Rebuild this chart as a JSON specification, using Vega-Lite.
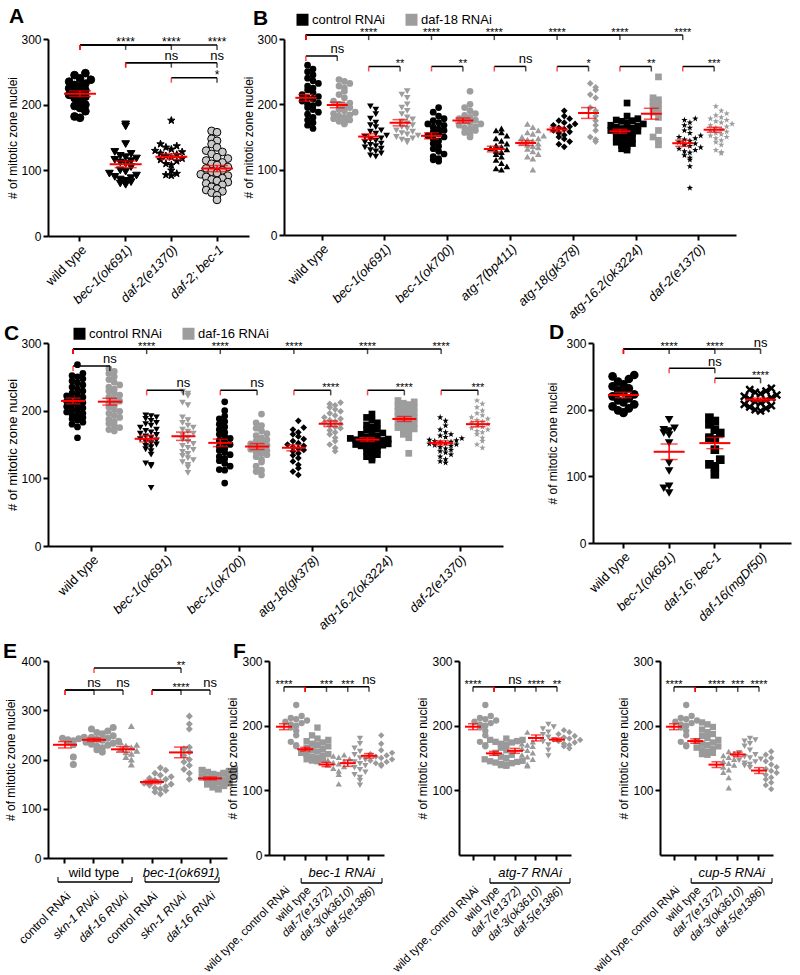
{
"$schema": "https://vega.github.io/schema/vega-lite/v6.json",
"background": "white",
"padding": {"left": 3, "top": 6, "right": 2, "bottom": 2},
"config": {
  "font": "Liberation Sans",
  "view": {"stroke": null},
  "axis": {"domainColor": "black", "domainWidth": 2, "tickColor": "black", "tickWidth": 2, "tickSize": 5, "labelColor": "black", "labelFontSize": 12, "titleFontSize": 12, "titleFontWeight": "normal", "titleColor": "black", "grid": false, "labelPadding": 2},
  "axisY": {"titlePadding": 1},
  "axisX": {"labelAngle": -45, "labelFontSize": 13},
  "title": {"fontSize": 21, "fontWeight": "bold", "anchor": "start", "color": "black", "frame": "group"},
  "legend": {"labelFontSize": 13, "labelColor": "black"}
},
"datasets": {
"A": [
{"g":"wild type","v":248},{"g":"wild type","v":245},{"g":"wild type","v":240},{"g":"wild type","v":238},{"g":"wild type","v":235},{"g":"wild type","v":232},{"g":"wild type","v":230},{"g":"wild type","v":228},{"g":"wild type","v":225},{"g":"wild type","v":222},{"g":"wild type","v":220},{"g":"wild type","v":218},{"g":"wild type","v":215},{"g":"wild type","v":212},{"g":"wild type","v":210},{"g":"wild type","v":205},{"g":"wild type","v":200},{"g":"wild type","v":198},{"g":"wild type","v":195},{"g":"wild type","v":190},{"g":"wild type","v":182},{"g":"wild type","v":180},
{"g":"bec-1(ok691)","v":170},{"g":"bec-1(ok691)","v":167},{"g":"bec-1(ok691)","v":140},{"g":"bec-1(ok691)","v":128},{"g":"bec-1(ok691)","v":125},{"g":"bec-1(ok691)","v":122},{"g":"bec-1(ok691)","v":120},{"g":"bec-1(ok691)","v":118},{"g":"bec-1(ok691)","v":116},{"g":"bec-1(ok691)","v":114},{"g":"bec-1(ok691)","v":112},{"g":"bec-1(ok691)","v":110},{"g":"bec-1(ok691)","v":105},{"g":"bec-1(ok691)","v":100},{"g":"bec-1(ok691)","v":98},{"g":"bec-1(ok691)","v":95},{"g":"bec-1(ok691)","v":92},{"g":"bec-1(ok691)","v":90},{"g":"bec-1(ok691)","v":88},{"g":"bec-1(ok691)","v":86},{"g":"bec-1(ok691)","v":84},{"g":"bec-1(ok691)","v":82},{"g":"bec-1(ok691)","v":80},{"g":"bec-1(ok691)","v":78},
{"g":"daf-2(e1370)","v":176},{"g":"daf-2(e1370)","v":140},{"g":"daf-2(e1370)","v":137},{"g":"daf-2(e1370)","v":135},{"g":"daf-2(e1370)","v":132},{"g":"daf-2(e1370)","v":130},{"g":"daf-2(e1370)","v":128},{"g":"daf-2(e1370)","v":126},{"g":"daf-2(e1370)","v":124},{"g":"daf-2(e1370)","v":122},{"g":"daf-2(e1370)","v":120},{"g":"daf-2(e1370)","v":118},{"g":"daf-2(e1370)","v":116},{"g":"daf-2(e1370)","v":114},{"g":"daf-2(e1370)","v":110},{"g":"daf-2(e1370)","v":108},{"g":"daf-2(e1370)","v":100},{"g":"daf-2(e1370)","v":95},{"g":"daf-2(e1370)","v":93},{"g":"daf-2(e1370)","v":92},
{"g":"daf-2; bec-1","v":160},{"g":"daf-2; bec-1","v":158},{"g":"daf-2; bec-1","v":148},{"g":"daf-2; bec-1","v":145},{"g":"daf-2; bec-1","v":140},{"g":"daf-2; bec-1","v":135},{"g":"daf-2; bec-1","v":130},{"g":"daf-2; bec-1","v":128},{"g":"daf-2; bec-1","v":125},{"g":"daf-2; bec-1","v":120},{"g":"daf-2; bec-1","v":118},{"g":"daf-2; bec-1","v":115},{"g":"daf-2; bec-1","v":112},{"g":"daf-2; bec-1","v":110},{"g":"daf-2; bec-1","v":108},{"g":"daf-2; bec-1","v":105},{"g":"daf-2; bec-1","v":103},{"g":"daf-2; bec-1","v":100},{"g":"daf-2; bec-1","v":98},{"g":"daf-2; bec-1","v":96},{"g":"daf-2; bec-1","v":94},{"g":"daf-2; bec-1","v":92},{"g":"daf-2; bec-1","v":90},{"g":"daf-2; bec-1","v":88},{"g":"daf-2; bec-1","v":86},{"g":"daf-2; bec-1","v":84},{"g":"daf-2; bec-1","v":82},{"g":"daf-2; bec-1","v":80},{"g":"daf-2; bec-1","v":78},{"g":"daf-2; bec-1","v":75},{"g":"daf-2; bec-1","v":72},{"g":"daf-2; bec-1","v":70},{"g":"daf-2; bec-1","v":68},{"g":"daf-2; bec-1","v":66},{"g":"daf-2; bec-1","v":62},{"g":"daf-2; bec-1","v":55}
],
"Abr": [
{"a":"wild type","b":"bec-1(ok691)","l":291,"t":"****"},{"a":"wild type","b":"daf-2(e1370)","l":291,"t":"****"},{"a":"wild type","b":"daf-2; bec-1","l":291,"t":"****"},
{"a":"bec-1(ok691)","b":"daf-2(e1370)","l":264,"t":"ns"},{"a":"bec-1(ok691)","b":"daf-2; bec-1","l":264,"t":"ns"},
{"a":"daf-2(e1370)","b":"daf-2; bec-1","l":241,"t":"*"}
],
"B": [
{"s":"wild type|c","r":"control RNAi","v":260},{"s":"wild type|c","r":"control RNAi","v":254},{"s":"wild type|c","r":"control RNAi","v":250},{"s":"wild type|c","r":"control RNAi","v":245},{"s":"wild type|c","r":"control RNAi","v":240},{"s":"wild type|c","r":"control RNAi","v":236},{"s":"wild type|c","r":"control RNAi","v":232},{"s":"wild type|c","r":"control RNAi","v":228},{"s":"wild type|c","r":"control RNAi","v":225},{"s":"wild type|c","r":"control RNAi","v":222},{"s":"wild type|c","r":"control RNAi","v":218},{"s":"wild type|c","r":"control RNAi","v":215},{"s":"wild type|c","r":"control RNAi","v":212},{"s":"wild type|c","r":"control RNAi","v":210},{"s":"wild type|c","r":"control RNAi","v":208},{"s":"wild type|c","r":"control RNAi","v":205},{"s":"wild type|c","r":"control RNAi","v":202},{"s":"wild type|c","r":"control RNAi","v":200},{"s":"wild type|c","r":"control RNAi","v":198},{"s":"wild type|c","r":"control RNAi","v":195},{"s":"wild type|c","r":"control RNAi","v":192},{"s":"wild type|c","r":"control RNAi","v":188},{"s":"wild type|c","r":"control RNAi","v":185},{"s":"wild type|c","r":"control RNAi","v":180},{"s":"wild type|c","r":"control RNAi","v":176},{"s":"wild type|c","r":"control RNAi","v":172},{"s":"wild type|c","r":"control RNAi","v":168},{"s":"wild type|c","r":"control RNAi","v":163},
{"s":"wild type|d","r":"daf-18 RNAi","v":238},{"s":"wild type|d","r":"daf-18 RNAi","v":235},{"s":"wild type|d","r":"daf-18 RNAi","v":232},{"s":"wild type|d","r":"daf-18 RNAi","v":228},{"s":"wild type|d","r":"daf-18 RNAi","v":225},{"s":"wild type|d","r":"daf-18 RNAi","v":220},{"s":"wild type|d","r":"daf-18 RNAi","v":215},{"s":"wild type|d","r":"daf-18 RNAi","v":210},{"s":"wild type|d","r":"daf-18 RNAi","v":205},{"s":"wild type|d","r":"daf-18 RNAi","v":202},{"s":"wild type|d","r":"daf-18 RNAi","v":200},{"s":"wild type|d","r":"daf-18 RNAi","v":198},{"s":"wild type|d","r":"daf-18 RNAi","v":195},{"s":"wild type|d","r":"daf-18 RNAi","v":192},{"s":"wild type|d","r":"daf-18 RNAi","v":190},{"s":"wild type|d","r":"daf-18 RNAi","v":188},{"s":"wild type|d","r":"daf-18 RNAi","v":186},{"s":"wild type|d","r":"daf-18 RNAi","v":184},{"s":"wild type|d","r":"daf-18 RNAi","v":182},{"s":"wild type|d","r":"daf-18 RNAi","v":180},{"s":"wild type|d","r":"daf-18 RNAi","v":178},{"s":"wild type|d","r":"daf-18 RNAi","v":176},{"s":"wild type|d","r":"daf-18 RNAi","v":174},{"s":"wild type|d","r":"daf-18 RNAi","v":172},{"s":"wild type|d","r":"daf-18 RNAi","v":170},
{"s":"bec-1(ok691)|c","r":"control RNAi","v":197},{"s":"bec-1(ok691)|c","r":"control RNAi","v":192},{"s":"bec-1(ok691)|c","r":"control RNAi","v":185},{"s":"bec-1(ok691)|c","r":"control RNAi","v":178},{"s":"bec-1(ok691)|c","r":"control RNAi","v":172},{"s":"bec-1(ok691)|c","r":"control RNAi","v":168},{"s":"bec-1(ok691)|c","r":"control RNAi","v":165},{"s":"bec-1(ok691)|c","r":"control RNAi","v":160},{"s":"bec-1(ok691)|c","r":"control RNAi","v":158},{"s":"bec-1(ok691)|c","r":"control RNAi","v":155},{"s":"bec-1(ok691)|c","r":"control RNAi","v":152},{"s":"bec-1(ok691)|c","r":"control RNAi","v":150},{"s":"bec-1(ok691)|c","r":"control RNAi","v":148},{"s":"bec-1(ok691)|c","r":"control RNAi","v":146},{"s":"bec-1(ok691)|c","r":"control RNAi","v":144},{"s":"bec-1(ok691)|c","r":"control RNAi","v":142},{"s":"bec-1(ok691)|c","r":"control RNAi","v":140},{"s":"bec-1(ok691)|c","r":"control RNAi","v":138},{"s":"bec-1(ok691)|c","r":"control RNAi","v":136},{"s":"bec-1(ok691)|c","r":"control RNAi","v":134},{"s":"bec-1(ok691)|c","r":"control RNAi","v":132},{"s":"bec-1(ok691)|c","r":"control RNAi","v":130},{"s":"bec-1(ok691)|c","r":"control RNAi","v":128},{"s":"bec-1(ok691)|c","r":"control RNAi","v":125},{"s":"bec-1(ok691)|c","r":"control RNAi","v":122},{"s":"bec-1(ok691)|c","r":"control RNAi","v":120},
{"s":"bec-1(ok691)|d","r":"daf-18 RNAi","v":220},{"s":"bec-1(ok691)|d","r":"daf-18 RNAi","v":215},{"s":"bec-1(ok691)|d","r":"daf-18 RNAi","v":210},{"s":"bec-1(ok691)|d","r":"daf-18 RNAi","v":200},{"s":"bec-1(ok691)|d","r":"daf-18 RNAi","v":195},{"s":"bec-1(ok691)|d","r":"daf-18 RNAi","v":190},{"s":"bec-1(ok691)|d","r":"daf-18 RNAi","v":185},{"s":"bec-1(ok691)|d","r":"daf-18 RNAi","v":180},{"s":"bec-1(ok691)|d","r":"daf-18 RNAi","v":177},{"s":"bec-1(ok691)|d","r":"daf-18 RNAi","v":174},{"s":"bec-1(ok691)|d","r":"daf-18 RNAi","v":171},{"s":"bec-1(ok691)|d","r":"daf-18 RNAi","v":168},{"s":"bec-1(ok691)|d","r":"daf-18 RNAi","v":165},{"s":"bec-1(ok691)|d","r":"daf-18 RNAi","v":163},{"s":"bec-1(ok691)|d","r":"daf-18 RNAi","v":160},{"s":"bec-1(ok691)|d","r":"daf-18 RNAi","v":158},{"s":"bec-1(ok691)|d","r":"daf-18 RNAi","v":156},{"s":"bec-1(ok691)|d","r":"daf-18 RNAi","v":154},{"s":"bec-1(ok691)|d","r":"daf-18 RNAi","v":152},{"s":"bec-1(ok691)|d","r":"daf-18 RNAi","v":150},{"s":"bec-1(ok691)|d","r":"daf-18 RNAi","v":148},{"s":"bec-1(ok691)|d","r":"daf-18 RNAi","v":146},{"s":"bec-1(ok691)|d","r":"daf-18 RNAi","v":144},{"s":"bec-1(ok691)|d","r":"daf-18 RNAi","v":142},
{"s":"bec-1(ok700)|c","r":"control RNAi","v":195},{"s":"bec-1(ok700)|c","r":"control RNAi","v":188},{"s":"bec-1(ok700)|c","r":"control RNAi","v":182},{"s":"bec-1(ok700)|c","r":"control RNAi","v":178},{"s":"bec-1(ok700)|c","r":"control RNAi","v":175},{"s":"bec-1(ok700)|c","r":"control RNAi","v":172},{"s":"bec-1(ok700)|c","r":"control RNAi","v":170},{"s":"bec-1(ok700)|c","r":"control RNAi","v":168},{"s":"bec-1(ok700)|c","r":"control RNAi","v":165},{"s":"bec-1(ok700)|c","r":"control RNAi","v":162},{"s":"bec-1(ok700)|c","r":"control RNAi","v":160},{"s":"bec-1(ok700)|c","r":"control RNAi","v":158},{"s":"bec-1(ok700)|c","r":"control RNAi","v":155},{"s":"bec-1(ok700)|c","r":"control RNAi","v":152},{"s":"bec-1(ok700)|c","r":"control RNAi","v":150},{"s":"bec-1(ok700)|c","r":"control RNAi","v":147},{"s":"bec-1(ok700)|c","r":"control RNAi","v":144},{"s":"bec-1(ok700)|c","r":"control RNAi","v":140},{"s":"bec-1(ok700)|c","r":"control RNAi","v":136},{"s":"bec-1(ok700)|c","r":"control RNAi","v":132},{"s":"bec-1(ok700)|c","r":"control RNAi","v":128},{"s":"bec-1(ok700)|c","r":"control RNAi","v":124},{"s":"bec-1(ok700)|c","r":"control RNAi","v":120},{"s":"bec-1(ok700)|c","r":"control RNAi","v":117},{"s":"bec-1(ok700)|c","r":"control RNAi","v":115},{"s":"bec-1(ok700)|c","r":"control RNAi","v":113},
{"s":"bec-1(ok700)|d","r":"daf-18 RNAi","v":220},{"s":"bec-1(ok700)|d","r":"daf-18 RNAi","v":200},{"s":"bec-1(ok700)|d","r":"daf-18 RNAi","v":195},{"s":"bec-1(ok700)|d","r":"daf-18 RNAi","v":190},{"s":"bec-1(ok700)|d","r":"daf-18 RNAi","v":186},{"s":"bec-1(ok700)|d","r":"daf-18 RNAi","v":183},{"s":"bec-1(ok700)|d","r":"daf-18 RNAi","v":180},{"s":"bec-1(ok700)|d","r":"daf-18 RNAi","v":178},{"s":"bec-1(ok700)|d","r":"daf-18 RNAi","v":176},{"s":"bec-1(ok700)|d","r":"daf-18 RNAi","v":174},{"s":"bec-1(ok700)|d","r":"daf-18 RNAi","v":172},{"s":"bec-1(ok700)|d","r":"daf-18 RNAi","v":170},{"s":"bec-1(ok700)|d","r":"daf-18 RNAi","v":168},{"s":"bec-1(ok700)|d","r":"daf-18 RNAi","v":166},{"s":"bec-1(ok700)|d","r":"daf-18 RNAi","v":164},{"s":"bec-1(ok700)|d","r":"daf-18 RNAi","v":162},{"s":"bec-1(ok700)|d","r":"daf-18 RNAi","v":160},{"s":"bec-1(ok700)|d","r":"daf-18 RNAi","v":157},{"s":"bec-1(ok700)|d","r":"daf-18 RNAi","v":154},{"s":"bec-1(ok700)|d","r":"daf-18 RNAi","v":150},
{"s":"atg-7(bp411)|c","r":"control RNAi","v":163},{"s":"atg-7(bp411)|c","r":"control RNAi","v":160},{"s":"atg-7(bp411)|c","r":"control RNAi","v":157},{"s":"atg-7(bp411)|c","r":"control RNAi","v":152},{"s":"atg-7(bp411)|c","r":"control RNAi","v":148},{"s":"atg-7(bp411)|c","r":"control RNAi","v":144},{"s":"atg-7(bp411)|c","r":"control RNAi","v":140},{"s":"atg-7(bp411)|c","r":"control RNAi","v":137},{"s":"atg-7(bp411)|c","r":"control RNAi","v":135},{"s":"atg-7(bp411)|c","r":"control RNAi","v":133},{"s":"atg-7(bp411)|c","r":"control RNAi","v":131},{"s":"atg-7(bp411)|c","r":"control RNAi","v":129},{"s":"atg-7(bp411)|c","r":"control RNAi","v":127},{"s":"atg-7(bp411)|c","r":"control RNAi","v":124},{"s":"atg-7(bp411)|c","r":"control RNAi","v":120},{"s":"atg-7(bp411)|c","r":"control RNAi","v":115},{"s":"atg-7(bp411)|c","r":"control RNAi","v":110},{"s":"atg-7(bp411)|c","r":"control RNAi","v":105},{"s":"atg-7(bp411)|c","r":"control RNAi","v":102},{"s":"atg-7(bp411)|c","r":"control RNAi","v":100},
{"s":"atg-7(bp411)|d","r":"daf-18 RNAi","v":170},{"s":"atg-7(bp411)|d","r":"daf-18 RNAi","v":165},{"s":"atg-7(bp411)|d","r":"daf-18 RNAi","v":160},{"s":"atg-7(bp411)|d","r":"daf-18 RNAi","v":157},{"s":"atg-7(bp411)|d","r":"daf-18 RNAi","v":155},{"s":"atg-7(bp411)|d","r":"daf-18 RNAi","v":152},{"s":"atg-7(bp411)|d","r":"daf-18 RNAi","v":150},{"s":"atg-7(bp411)|d","r":"daf-18 RNAi","v":148},{"s":"atg-7(bp411)|d","r":"daf-18 RNAi","v":146},{"s":"atg-7(bp411)|d","r":"daf-18 RNAi","v":144},{"s":"atg-7(bp411)|d","r":"daf-18 RNAi","v":142},{"s":"atg-7(bp411)|d","r":"daf-18 RNAi","v":140},{"s":"atg-7(bp411)|d","r":"daf-18 RNAi","v":138},{"s":"atg-7(bp411)|d","r":"daf-18 RNAi","v":136},{"s":"atg-7(bp411)|d","r":"daf-18 RNAi","v":134},{"s":"atg-7(bp411)|d","r":"daf-18 RNAi","v":132},{"s":"atg-7(bp411)|d","r":"daf-18 RNAi","v":128},{"s":"atg-7(bp411)|d","r":"daf-18 RNAi","v":124},{"s":"atg-7(bp411)|d","r":"daf-18 RNAi","v":120},{"s":"atg-7(bp411)|d","r":"daf-18 RNAi","v":117},{"s":"atg-7(bp411)|d","r":"daf-18 RNAi","v":100},
{"s":"atg-18(gk378)|c","r":"control RNAi","v":190},{"s":"atg-18(gk378)|c","r":"control RNAi","v":182},{"s":"atg-18(gk378)|c","r":"control RNAi","v":178},{"s":"atg-18(gk378)|c","r":"control RNAi","v":175},{"s":"atg-18(gk378)|c","r":"control RNAi","v":172},{"s":"atg-18(gk378)|c","r":"control RNAi","v":170},{"s":"atg-18(gk378)|c","r":"control RNAi","v":168},{"s":"atg-18(gk378)|c","r":"control RNAi","v":166},{"s":"atg-18(gk378)|c","r":"control RNAi","v":164},{"s":"atg-18(gk378)|c","r":"control RNAi","v":162},{"s":"atg-18(gk378)|c","r":"control RNAi","v":160},{"s":"atg-18(gk378)|c","r":"control RNAi","v":158},{"s":"atg-18(gk378)|c","r":"control RNAi","v":156},{"s":"atg-18(gk378)|c","r":"control RNAi","v":153},{"s":"atg-18(gk378)|c","r":"control RNAi","v":150},{"s":"atg-18(gk378)|c","r":"control RNAi","v":147},{"s":"atg-18(gk378)|c","r":"control RNAi","v":143},{"s":"atg-18(gk378)|c","r":"control RNAi","v":139},{"s":"atg-18(gk378)|c","r":"control RNAi","v":135},
{"s":"atg-18(gk378)|d","r":"daf-18 RNAi","v":232},{"s":"atg-18(gk378)|d","r":"daf-18 RNAi","v":226},{"s":"atg-18(gk378)|d","r":"daf-18 RNAi","v":222},{"s":"atg-18(gk378)|d","r":"daf-18 RNAi","v":215},{"s":"atg-18(gk378)|d","r":"daf-18 RNAi","v":210},{"s":"atg-18(gk378)|d","r":"daf-18 RNAi","v":195},{"s":"atg-18(gk378)|d","r":"daf-18 RNAi","v":190},{"s":"atg-18(gk378)|d","r":"daf-18 RNAi","v":182},{"s":"atg-18(gk378)|d","r":"daf-18 RNAi","v":175},{"s":"atg-18(gk378)|d","r":"daf-18 RNAi","v":168},{"s":"atg-18(gk378)|d","r":"daf-18 RNAi","v":160},{"s":"atg-18(gk378)|d","r":"daf-18 RNAi","v":150},{"s":"atg-18(gk378)|d","r":"daf-18 RNAi","v":146},{"s":"atg-18(gk378)|d","r":"daf-18 RNAi","v":143},
{"s":"atg-16.2(ok3224)|c","r":"control RNAi","v":202},{"s":"atg-16.2(ok3224)|c","r":"control RNAi","v":182},{"s":"atg-16.2(ok3224)|c","r":"control RNAi","v":178},{"s":"atg-16.2(ok3224)|c","r":"control RNAi","v":176},{"s":"atg-16.2(ok3224)|c","r":"control RNAi","v":175},{"s":"atg-16.2(ok3224)|c","r":"control RNAi","v":174},{"s":"atg-16.2(ok3224)|c","r":"control RNAi","v":172},{"s":"atg-16.2(ok3224)|c","r":"control RNAi","v":170},{"s":"atg-16.2(ok3224)|c","r":"control RNAi","v":168},{"s":"atg-16.2(ok3224)|c","r":"control RNAi","v":167},{"s":"atg-16.2(ok3224)|c","r":"control RNAi","v":165},{"s":"atg-16.2(ok3224)|c","r":"control RNAi","v":164},{"s":"atg-16.2(ok3224)|c","r":"control RNAi","v":163},{"s":"atg-16.2(ok3224)|c","r":"control RNAi","v":162},{"s":"atg-16.2(ok3224)|c","r":"control RNAi","v":160},{"s":"atg-16.2(ok3224)|c","r":"control RNAi","v":159},{"s":"atg-16.2(ok3224)|c","r":"control RNAi","v":158},{"s":"atg-16.2(ok3224)|c","r":"control RNAi","v":156},{"s":"atg-16.2(ok3224)|c","r":"control RNAi","v":155},{"s":"atg-16.2(ok3224)|c","r":"control RNAi","v":153},{"s":"atg-16.2(ok3224)|c","r":"control RNAi","v":150},{"s":"atg-16.2(ok3224)|c","r":"control RNAi","v":148},{"s":"atg-16.2(ok3224)|c","r":"control RNAi","v":146},{"s":"atg-16.2(ok3224)|c","r":"control RNAi","v":144},{"s":"atg-16.2(ok3224)|c","r":"control RNAi","v":142},{"s":"atg-16.2(ok3224)|c","r":"control RNAi","v":140},{"s":"atg-16.2(ok3224)|c","r":"control RNAi","v":137},{"s":"atg-16.2(ok3224)|c","r":"control RNAi","v":135},{"s":"atg-16.2(ok3224)|c","r":"control RNAi","v":132},{"s":"atg-16.2(ok3224)|c","r":"control RNAi","v":130},
{"s":"atg-16.2(ok3224)|d","r":"daf-18 RNAi","v":242},{"s":"atg-16.2(ok3224)|d","r":"daf-18 RNAi","v":210},{"s":"atg-16.2(ok3224)|d","r":"daf-18 RNAi","v":207},{"s":"atg-16.2(ok3224)|d","r":"daf-18 RNAi","v":204},{"s":"atg-16.2(ok3224)|d","r":"daf-18 RNAi","v":200},{"s":"atg-16.2(ok3224)|d","r":"daf-18 RNAi","v":197},{"s":"atg-16.2(ok3224)|d","r":"daf-18 RNAi","v":192},{"s":"atg-16.2(ok3224)|d","r":"daf-18 RNAi","v":188},{"s":"atg-16.2(ok3224)|d","r":"daf-18 RNAi","v":180},{"s":"atg-16.2(ok3224)|d","r":"daf-18 RNAi","v":160},{"s":"atg-16.2(ok3224)|d","r":"daf-18 RNAi","v":150},{"s":"atg-16.2(ok3224)|d","r":"daf-18 RNAi","v":145},{"s":"atg-16.2(ok3224)|d","r":"daf-18 RNAi","v":138},
{"s":"daf-2(e1370)|c","r":"control RNAi","v":178},{"s":"daf-2(e1370)|c","r":"control RNAi","v":176},{"s":"daf-2(e1370)|c","r":"control RNAi","v":172},{"s":"daf-2(e1370)|c","r":"control RNAi","v":168},{"s":"daf-2(e1370)|c","r":"control RNAi","v":164},{"s":"daf-2(e1370)|c","r":"control RNAi","v":160},{"s":"daf-2(e1370)|c","r":"control RNAi","v":156},{"s":"daf-2(e1370)|c","r":"control RNAi","v":152},{"s":"daf-2(e1370)|c","r":"control RNAi","v":150},{"s":"daf-2(e1370)|c","r":"control RNAi","v":148},{"s":"daf-2(e1370)|c","r":"control RNAi","v":146},{"s":"daf-2(e1370)|c","r":"control RNAi","v":144},{"s":"daf-2(e1370)|c","r":"control RNAi","v":142},{"s":"daf-2(e1370)|c","r":"control RNAi","v":140},{"s":"daf-2(e1370)|c","r":"control RNAi","v":138},{"s":"daf-2(e1370)|c","r":"control RNAi","v":136},{"s":"daf-2(e1370)|c","r":"control RNAi","v":134},{"s":"daf-2(e1370)|c","r":"control RNAi","v":132},{"s":"daf-2(e1370)|c","r":"control RNAi","v":130},{"s":"daf-2(e1370)|c","r":"control RNAi","v":128},{"s":"daf-2(e1370)|c","r":"control RNAi","v":126},{"s":"daf-2(e1370)|c","r":"control RNAi","v":122},{"s":"daf-2(e1370)|c","r":"control RNAi","v":118},{"s":"daf-2(e1370)|c","r":"control RNAi","v":115},{"s":"daf-2(e1370)|c","r":"control RNAi","v":105},{"s":"daf-2(e1370)|c","r":"control RNAi","v":72},
{"s":"daf-2(e1370)|d","r":"daf-18 RNAi","v":197},{"s":"daf-2(e1370)|d","r":"daf-18 RNAi","v":190},{"s":"daf-2(e1370)|d","r":"daf-18 RNAi","v":186},{"s":"daf-2(e1370)|d","r":"daf-18 RNAi","v":183},{"s":"daf-2(e1370)|d","r":"daf-18 RNAi","v":180},{"s":"daf-2(e1370)|d","r":"daf-18 RNAi","v":178},{"s":"daf-2(e1370)|d","r":"daf-18 RNAi","v":176},{"s":"daf-2(e1370)|d","r":"daf-18 RNAi","v":174},{"s":"daf-2(e1370)|d","r":"daf-18 RNAi","v":172},{"s":"daf-2(e1370)|d","r":"daf-18 RNAi","v":170},{"s":"daf-2(e1370)|d","r":"daf-18 RNAi","v":168},{"s":"daf-2(e1370)|d","r":"daf-18 RNAi","v":166},{"s":"daf-2(e1370)|d","r":"daf-18 RNAi","v":164},{"s":"daf-2(e1370)|d","r":"daf-18 RNAi","v":162},{"s":"daf-2(e1370)|d","r":"daf-18 RNAi","v":160},{"s":"daf-2(e1370)|d","r":"daf-18 RNAi","v":158},{"s":"daf-2(e1370)|d","r":"daf-18 RNAi","v":156},{"s":"daf-2(e1370)|d","r":"daf-18 RNAi","v":154},{"s":"daf-2(e1370)|d","r":"daf-18 RNAi","v":152},{"s":"daf-2(e1370)|d","r":"daf-18 RNAi","v":150},{"s":"daf-2(e1370)|d","r":"daf-18 RNAi","v":148},{"s":"daf-2(e1370)|d","r":"daf-18 RNAi","v":145},{"s":"daf-2(e1370)|d","r":"daf-18 RNAi","v":142},{"s":"daf-2(e1370)|d","r":"daf-18 RNAi","v":138},{"s":"daf-2(e1370)|d","r":"daf-18 RNAi","v":130},{"s":"daf-2(e1370)|d","r":"daf-18 RNAi","v":127},{"s":"daf-2(e1370)|d","r":"daf-18 RNAi","v":125}
],
"Bbr": [
{"a":"wild type|c","b":"bec-1(ok691)|c","l":306,"t":"****"},{"a":"wild type|c","b":"bec-1(ok700)|c","l":306,"t":"****"},{"a":"wild type|c","b":"atg-7(bp411)|c","l":306,"t":"****"},{"a":"wild type|c","b":"atg-18(gk378)|c","l":306,"t":"****"},{"a":"wild type|c","b":"atg-16.2(ok3224)|c","l":306,"t":"****"},{"a":"wild type|c","b":"daf-2(e1370)|c","l":306,"t":"****"},
{"a":"wild type|c","b":"wild type|d","l":274,"t":"ns"},
{"a":"bec-1(ok691)|c","b":"bec-1(ok691)|d","l":258,"t":"**"},{"a":"bec-1(ok700)|c","b":"bec-1(ok700)|d","l":258,"t":"**"},{"a":"atg-7(bp411)|c","b":"atg-7(bp411)|d","l":258,"t":"ns"},{"a":"atg-18(gk378)|c","b":"atg-18(gk378)|d","l":258,"t":"*"},{"a":"atg-16.2(ok3224)|c","b":"atg-16.2(ok3224)|d","l":258,"t":"**"},{"a":"daf-2(e1370)|c","b":"daf-2(e1370)|d","l":258,"t":"***"}
],
"C": [
{"s":"wild type|c","r":"control RNAi","v":268},{"s":"wild type|c","r":"control RNAi","v":255},{"s":"wild type|c","r":"control RNAi","v":252},{"s":"wild type|c","r":"control RNAi","v":250},{"s":"wild type|c","r":"control RNAi","v":247},{"s":"wild type|c","r":"control RNAi","v":244},{"s":"wild type|c","r":"control RNAi","v":241},{"s":"wild type|c","r":"control RNAi","v":238},{"s":"wild type|c","r":"control RNAi","v":235},{"s":"wild type|c","r":"control RNAi","v":232},{"s":"wild type|c","r":"control RNAi","v":229},{"s":"wild type|c","r":"control RNAi","v":226},{"s":"wild type|c","r":"control RNAi","v":224},{"s":"wild type|c","r":"control RNAi","v":222},{"s":"wild type|c","r":"control RNAi","v":220},{"s":"wild type|c","r":"control RNAi","v":218},{"s":"wild type|c","r":"control RNAi","v":216},{"s":"wild type|c","r":"control RNAi","v":214},{"s":"wild type|c","r":"control RNAi","v":212},{"s":"wild type|c","r":"control RNAi","v":210},{"s":"wild type|c","r":"control RNAi","v":208},{"s":"wild type|c","r":"control RNAi","v":206},{"s":"wild type|c","r":"control RNAi","v":204},{"s":"wild type|c","r":"control RNAi","v":202},{"s":"wild type|c","r":"control RNAi","v":200},{"s":"wild type|c","r":"control RNAi","v":198},{"s":"wild type|c","r":"control RNAi","v":196},{"s":"wild type|c","r":"control RNAi","v":194},{"s":"wild type|c","r":"control RNAi","v":192},{"s":"wild type|c","r":"control RNAi","v":190},{"s":"wild type|c","r":"control RNAi","v":188},{"s":"wild type|c","r":"control RNAi","v":186},{"s":"wild type|c","r":"control RNAi","v":183},{"s":"wild type|c","r":"control RNAi","v":180},{"s":"wild type|c","r":"control RNAi","v":176},{"s":"wild type|c","r":"control RNAi","v":160},
{"s":"wild type|d","r":"daf-16 RNAi","v":262},{"s":"wild type|d","r":"daf-16 RNAi","v":258},{"s":"wild type|d","r":"daf-16 RNAi","v":255},{"s":"wild type|d","r":"daf-16 RNAi","v":250},{"s":"wild type|d","r":"daf-16 RNAi","v":246},{"s":"wild type|d","r":"daf-16 RNAi","v":242},{"s":"wild type|d","r":"daf-16 RNAi","v":238},{"s":"wild type|d","r":"daf-16 RNAi","v":235},{"s":"wild type|d","r":"daf-16 RNAi","v":232},{"s":"wild type|d","r":"daf-16 RNAi","v":229},{"s":"wild type|d","r":"daf-16 RNAi","v":226},{"s":"wild type|d","r":"daf-16 RNAi","v":223},{"s":"wild type|d","r":"daf-16 RNAi","v":220},{"s":"wild type|d","r":"daf-16 RNAi","v":217},{"s":"wild type|d","r":"daf-16 RNAi","v":214},{"s":"wild type|d","r":"daf-16 RNAi","v":211},{"s":"wild type|d","r":"daf-16 RNAi","v":208},{"s":"wild type|d","r":"daf-16 RNAi","v":205},{"s":"wild type|d","r":"daf-16 RNAi","v":202},{"s":"wild type|d","r":"daf-16 RNAi","v":199},{"s":"wild type|d","r":"daf-16 RNAi","v":196},{"s":"wild type|d","r":"daf-16 RNAi","v":193},{"s":"wild type|d","r":"daf-16 RNAi","v":190},{"s":"wild type|d","r":"daf-16 RNAi","v":187},{"s":"wild type|d","r":"daf-16 RNAi","v":184},{"s":"wild type|d","r":"daf-16 RNAi","v":181},{"s":"wild type|d","r":"daf-16 RNAi","v":178},{"s":"wild type|d","r":"daf-16 RNAi","v":175},{"s":"wild type|d","r":"daf-16 RNAi","v":172},{"s":"wild type|d","r":"daf-16 RNAi","v":170},
{"s":"bec-1(ok691)|c","r":"control RNAi","v":193},{"s":"bec-1(ok691)|c","r":"control RNAi","v":192},{"s":"bec-1(ok691)|c","r":"control RNAi","v":190},{"s":"bec-1(ok691)|c","r":"control RNAi","v":188},{"s":"bec-1(ok691)|c","r":"control RNAi","v":185},{"s":"bec-1(ok691)|c","r":"control RNAi","v":182},{"s":"bec-1(ok691)|c","r":"control RNAi","v":180},{"s":"bec-1(ok691)|c","r":"control RNAi","v":178},{"s":"bec-1(ok691)|c","r":"control RNAi","v":175},{"s":"bec-1(ok691)|c","r":"control RNAi","v":172},{"s":"bec-1(ok691)|c","r":"control RNAi","v":170},{"s":"bec-1(ok691)|c","r":"control RNAi","v":168},{"s":"bec-1(ok691)|c","r":"control RNAi","v":166},{"s":"bec-1(ok691)|c","r":"control RNAi","v":164},{"s":"bec-1(ok691)|c","r":"control RNAi","v":162},{"s":"bec-1(ok691)|c","r":"control RNAi","v":160},{"s":"bec-1(ok691)|c","r":"control RNAi","v":158},{"s":"bec-1(ok691)|c","r":"control RNAi","v":156},{"s":"bec-1(ok691)|c","r":"control RNAi","v":154},{"s":"bec-1(ok691)|c","r":"control RNAi","v":152},{"s":"bec-1(ok691)|c","r":"control RNAi","v":150},{"s":"bec-1(ok691)|c","r":"control RNAi","v":148},{"s":"bec-1(ok691)|c","r":"control RNAi","v":146},{"s":"bec-1(ok691)|c","r":"control RNAi","v":143},{"s":"bec-1(ok691)|c","r":"control RNAi","v":140},{"s":"bec-1(ok691)|c","r":"control RNAi","v":135},{"s":"bec-1(ok691)|c","r":"control RNAi","v":122},{"s":"bec-1(ok691)|c","r":"control RNAi","v":120},{"s":"bec-1(ok691)|c","r":"control RNAi","v":118},{"s":"bec-1(ok691)|c","r":"control RNAi","v":86},
{"s":"bec-1(ok691)|d","r":"daf-16 RNAi","v":228},{"s":"bec-1(ok691)|d","r":"daf-16 RNAi","v":225},{"s":"bec-1(ok691)|d","r":"daf-16 RNAi","v":222},{"s":"bec-1(ok691)|d","r":"daf-16 RNAi","v":212},{"s":"bec-1(ok691)|d","r":"daf-16 RNAi","v":208},{"s":"bec-1(ok691)|d","r":"daf-16 RNAi","v":190},{"s":"bec-1(ok691)|d","r":"daf-16 RNAi","v":186},{"s":"bec-1(ok691)|d","r":"daf-16 RNAi","v":182},{"s":"bec-1(ok691)|d","r":"daf-16 RNAi","v":178},{"s":"bec-1(ok691)|d","r":"daf-16 RNAi","v":175},{"s":"bec-1(ok691)|d","r":"daf-16 RNAi","v":172},{"s":"bec-1(ok691)|d","r":"daf-16 RNAi","v":169},{"s":"bec-1(ok691)|d","r":"daf-16 RNAi","v":166},{"s":"bec-1(ok691)|d","r":"daf-16 RNAi","v":163},{"s":"bec-1(ok691)|d","r":"daf-16 RNAi","v":160},{"s":"bec-1(ok691)|d","r":"daf-16 RNAi","v":157},{"s":"bec-1(ok691)|d","r":"daf-16 RNAi","v":154},{"s":"bec-1(ok691)|d","r":"daf-16 RNAi","v":151},{"s":"bec-1(ok691)|d","r":"daf-16 RNAi","v":148},{"s":"bec-1(ok691)|d","r":"daf-16 RNAi","v":145},{"s":"bec-1(ok691)|d","r":"daf-16 RNAi","v":142},{"s":"bec-1(ok691)|d","r":"daf-16 RNAi","v":139},{"s":"bec-1(ok691)|d","r":"daf-16 RNAi","v":136},{"s":"bec-1(ok691)|d","r":"daf-16 RNAi","v":133},{"s":"bec-1(ok691)|d","r":"daf-16 RNAi","v":130},{"s":"bec-1(ok691)|d","r":"daf-16 RNAi","v":127},{"s":"bec-1(ok691)|d","r":"daf-16 RNAi","v":124},{"s":"bec-1(ok691)|d","r":"daf-16 RNAi","v":120},{"s":"bec-1(ok691)|d","r":"daf-16 RNAi","v":116},{"s":"bec-1(ok691)|d","r":"daf-16 RNAi","v":108},
{"s":"bec-1(ok700)|c","r":"control RNAi","v":213},{"s":"bec-1(ok700)|c","r":"control RNAi","v":200},{"s":"bec-1(ok700)|c","r":"control RNAi","v":192},{"s":"bec-1(ok700)|c","r":"control RNAi","v":188},{"s":"bec-1(ok700)|c","r":"control RNAi","v":184},{"s":"bec-1(ok700)|c","r":"control RNAi","v":180},{"s":"bec-1(ok700)|c","r":"control RNAi","v":176},{"s":"bec-1(ok700)|c","r":"control RNAi","v":172},{"s":"bec-1(ok700)|c","r":"control RNAi","v":168},{"s":"bec-1(ok700)|c","r":"control RNAi","v":165},{"s":"bec-1(ok700)|c","r":"control RNAi","v":162},{"s":"bec-1(ok700)|c","r":"control RNAi","v":159},{"s":"bec-1(ok700)|c","r":"control RNAi","v":156},{"s":"bec-1(ok700)|c","r":"control RNAi","v":153},{"s":"bec-1(ok700)|c","r":"control RNAi","v":150},{"s":"bec-1(ok700)|c","r":"control RNAi","v":147},{"s":"bec-1(ok700)|c","r":"control RNAi","v":144},{"s":"bec-1(ok700)|c","r":"control RNAi","v":141},{"s":"bec-1(ok700)|c","r":"control RNAi","v":138},{"s":"bec-1(ok700)|c","r":"control RNAi","v":135},{"s":"bec-1(ok700)|c","r":"control RNAi","v":132},{"s":"bec-1(ok700)|c","r":"control RNAi","v":129},{"s":"bec-1(ok700)|c","r":"control RNAi","v":126},{"s":"bec-1(ok700)|c","r":"control RNAi","v":122},{"s":"bec-1(ok700)|c","r":"control RNAi","v":118},{"s":"bec-1(ok700)|c","r":"control RNAi","v":113},{"s":"bec-1(ok700)|c","r":"control RNAi","v":112},{"s":"bec-1(ok700)|c","r":"control RNAi","v":93},
{"s":"bec-1(ok700)|d","r":"daf-16 RNAi","v":195},{"s":"bec-1(ok700)|d","r":"daf-16 RNAi","v":182},{"s":"bec-1(ok700)|d","r":"daf-16 RNAi","v":178},{"s":"bec-1(ok700)|d","r":"daf-16 RNAi","v":174},{"s":"bec-1(ok700)|d","r":"daf-16 RNAi","v":170},{"s":"bec-1(ok700)|d","r":"daf-16 RNAi","v":166},{"s":"bec-1(ok700)|d","r":"daf-16 RNAi","v":163},{"s":"bec-1(ok700)|d","r":"daf-16 RNAi","v":160},{"s":"bec-1(ok700)|d","r":"daf-16 RNAi","v":157},{"s":"bec-1(ok700)|d","r":"daf-16 RNAi","v":155},{"s":"bec-1(ok700)|d","r":"daf-16 RNAi","v":153},{"s":"bec-1(ok700)|d","r":"daf-16 RNAi","v":151},{"s":"bec-1(ok700)|d","r":"daf-16 RNAi","v":149},{"s":"bec-1(ok700)|d","r":"daf-16 RNAi","v":147},{"s":"bec-1(ok700)|d","r":"daf-16 RNAi","v":145},{"s":"bec-1(ok700)|d","r":"daf-16 RNAi","v":143},{"s":"bec-1(ok700)|d","r":"daf-16 RNAi","v":141},{"s":"bec-1(ok700)|d","r":"daf-16 RNAi","v":139},{"s":"bec-1(ok700)|d","r":"daf-16 RNAi","v":137},{"s":"bec-1(ok700)|d","r":"daf-16 RNAi","v":135},{"s":"bec-1(ok700)|d","r":"daf-16 RNAi","v":132},{"s":"bec-1(ok700)|d","r":"daf-16 RNAi","v":128},{"s":"bec-1(ok700)|d","r":"daf-16 RNAi","v":124},{"s":"bec-1(ok700)|d","r":"daf-16 RNAi","v":118},{"s":"bec-1(ok700)|d","r":"daf-16 RNAi","v":112},{"s":"bec-1(ok700)|d","r":"daf-16 RNAi","v":110},{"s":"bec-1(ok700)|d","r":"daf-16 RNAi","v":105},
{"s":"atg-18(gk378)|c","r":"control RNAi","v":185},{"s":"atg-18(gk378)|c","r":"control RNAi","v":175},{"s":"atg-18(gk378)|c","r":"control RNAi","v":172},{"s":"atg-18(gk378)|c","r":"control RNAi","v":168},{"s":"atg-18(gk378)|c","r":"control RNAi","v":165},{"s":"atg-18(gk378)|c","r":"control RNAi","v":162},{"s":"atg-18(gk378)|c","r":"control RNAi","v":158},{"s":"atg-18(gk378)|c","r":"control RNAi","v":155},{"s":"atg-18(gk378)|c","r":"control RNAi","v":152},{"s":"atg-18(gk378)|c","r":"control RNAi","v":150},{"s":"atg-18(gk378)|c","r":"control RNAi","v":148},{"s":"atg-18(gk378)|c","r":"control RNAi","v":146},{"s":"atg-18(gk378)|c","r":"control RNAi","v":144},{"s":"atg-18(gk378)|c","r":"control RNAi","v":142},{"s":"atg-18(gk378)|c","r":"control RNAi","v":140},{"s":"atg-18(gk378)|c","r":"control RNAi","v":137},{"s":"atg-18(gk378)|c","r":"control RNAi","v":134},{"s":"atg-18(gk378)|c","r":"control RNAi","v":130},{"s":"atg-18(gk378)|c","r":"control RNAi","v":125},{"s":"atg-18(gk378)|c","r":"control RNAi","v":120},{"s":"atg-18(gk378)|c","r":"control RNAi","v":115},{"s":"atg-18(gk378)|c","r":"control RNAi","v":110},{"s":"atg-18(gk378)|c","r":"control RNAi","v":105},
{"s":"atg-18(gk378)|d","r":"daf-16 RNAi","v":212},{"s":"atg-18(gk378)|d","r":"daf-16 RNAi","v":210},{"s":"atg-18(gk378)|d","r":"daf-16 RNAi","v":208},{"s":"atg-18(gk378)|d","r":"daf-16 RNAi","v":205},{"s":"atg-18(gk378)|d","r":"daf-16 RNAi","v":202},{"s":"atg-18(gk378)|d","r":"daf-16 RNAi","v":199},{"s":"atg-18(gk378)|d","r":"daf-16 RNAi","v":196},{"s":"atg-18(gk378)|d","r":"daf-16 RNAi","v":193},{"s":"atg-18(gk378)|d","r":"daf-16 RNAi","v":190},{"s":"atg-18(gk378)|d","r":"daf-16 RNAi","v":188},{"s":"atg-18(gk378)|d","r":"daf-16 RNAi","v":186},{"s":"atg-18(gk378)|d","r":"daf-16 RNAi","v":184},{"s":"atg-18(gk378)|d","r":"daf-16 RNAi","v":182},{"s":"atg-18(gk378)|d","r":"daf-16 RNAi","v":180},{"s":"atg-18(gk378)|d","r":"daf-16 RNAi","v":178},{"s":"atg-18(gk378)|d","r":"daf-16 RNAi","v":176},{"s":"atg-18(gk378)|d","r":"daf-16 RNAi","v":174},{"s":"atg-18(gk378)|d","r":"daf-16 RNAi","v":171},{"s":"atg-18(gk378)|d","r":"daf-16 RNAi","v":168},{"s":"atg-18(gk378)|d","r":"daf-16 RNAi","v":165},{"s":"atg-18(gk378)|d","r":"daf-16 RNAi","v":160},{"s":"atg-18(gk378)|d","r":"daf-16 RNAi","v":155},{"s":"atg-18(gk378)|d","r":"daf-16 RNAi","v":150},{"s":"atg-18(gk378)|d","r":"daf-16 RNAi","v":145},{"s":"atg-18(gk378)|d","r":"daf-16 RNAi","v":140},
{"s":"atg-16.2(ok3224)|c","r":"control RNAi","v":195},{"s":"atg-16.2(ok3224)|c","r":"control RNAi","v":190},{"s":"atg-16.2(ok3224)|c","r":"control RNAi","v":186},{"s":"atg-16.2(ok3224)|c","r":"control RNAi","v":182},{"s":"atg-16.2(ok3224)|c","r":"control RNAi","v":179},{"s":"atg-16.2(ok3224)|c","r":"control RNAi","v":176},{"s":"atg-16.2(ok3224)|c","r":"control RNAi","v":173},{"s":"atg-16.2(ok3224)|c","r":"control RNAi","v":171},{"s":"atg-16.2(ok3224)|c","r":"control RNAi","v":169},{"s":"atg-16.2(ok3224)|c","r":"control RNAi","v":167},{"s":"atg-16.2(ok3224)|c","r":"control RNAi","v":165},{"s":"atg-16.2(ok3224)|c","r":"control RNAi","v":163},{"s":"atg-16.2(ok3224)|c","r":"control RNAi","v":161},{"s":"atg-16.2(ok3224)|c","r":"control RNAi","v":160},{"s":"atg-16.2(ok3224)|c","r":"control RNAi","v":159},{"s":"atg-16.2(ok3224)|c","r":"control RNAi","v":158},{"s":"atg-16.2(ok3224)|c","r":"control RNAi","v":157},{"s":"atg-16.2(ok3224)|c","r":"control RNAi","v":156},{"s":"atg-16.2(ok3224)|c","r":"control RNAi","v":155},{"s":"atg-16.2(ok3224)|c","r":"control RNAi","v":154},{"s":"atg-16.2(ok3224)|c","r":"control RNAi","v":153},{"s":"atg-16.2(ok3224)|c","r":"control RNAi","v":152},{"s":"atg-16.2(ok3224)|c","r":"control RNAi","v":151},{"s":"atg-16.2(ok3224)|c","r":"control RNAi","v":150},{"s":"atg-16.2(ok3224)|c","r":"control RNAi","v":149},{"s":"atg-16.2(ok3224)|c","r":"control RNAi","v":148},{"s":"atg-16.2(ok3224)|c","r":"control RNAi","v":147},{"s":"atg-16.2(ok3224)|c","r":"control RNAi","v":146},{"s":"atg-16.2(ok3224)|c","r":"control RNAi","v":144},{"s":"atg-16.2(ok3224)|c","r":"control RNAi","v":142},{"s":"atg-16.2(ok3224)|c","r":"control RNAi","v":140},{"s":"atg-16.2(ok3224)|c","r":"control RNAi","v":138},{"s":"atg-16.2(ok3224)|c","r":"control RNAi","v":135},{"s":"atg-16.2(ok3224)|c","r":"control RNAi","v":132},{"s":"atg-16.2(ok3224)|c","r":"control RNAi","v":130},{"s":"atg-16.2(ok3224)|c","r":"control RNAi","v":127},
{"s":"atg-16.2(ok3224)|d","r":"daf-16 RNAi","v":215},{"s":"atg-16.2(ok3224)|d","r":"daf-16 RNAi","v":213},{"s":"atg-16.2(ok3224)|d","r":"daf-16 RNAi","v":211},{"s":"atg-16.2(ok3224)|d","r":"daf-16 RNAi","v":209},{"s":"atg-16.2(ok3224)|d","r":"daf-16 RNAi","v":207},{"s":"atg-16.2(ok3224)|d","r":"daf-16 RNAi","v":205},{"s":"atg-16.2(ok3224)|d","r":"daf-16 RNAi","v":203},{"s":"atg-16.2(ok3224)|d","r":"daf-16 RNAi","v":201},{"s":"atg-16.2(ok3224)|d","r":"daf-16 RNAi","v":199},{"s":"atg-16.2(ok3224)|d","r":"daf-16 RNAi","v":197},{"s":"atg-16.2(ok3224)|d","r":"daf-16 RNAi","v":195},{"s":"atg-16.2(ok3224)|d","r":"daf-16 RNAi","v":193},{"s":"atg-16.2(ok3224)|d","r":"daf-16 RNAi","v":191},{"s":"atg-16.2(ok3224)|d","r":"daf-16 RNAi","v":189},{"s":"atg-16.2(ok3224)|d","r":"daf-16 RNAi","v":187},{"s":"atg-16.2(ok3224)|d","r":"daf-16 RNAi","v":185},{"s":"atg-16.2(ok3224)|d","r":"daf-16 RNAi","v":183},{"s":"atg-16.2(ok3224)|d","r":"daf-16 RNAi","v":181},{"s":"atg-16.2(ok3224)|d","r":"daf-16 RNAi","v":179},{"s":"atg-16.2(ok3224)|d","r":"daf-16 RNAi","v":177},{"s":"atg-16.2(ok3224)|d","r":"daf-16 RNAi","v":175},{"s":"atg-16.2(ok3224)|d","r":"daf-16 RNAi","v":173},{"s":"atg-16.2(ok3224)|d","r":"daf-16 RNAi","v":171},{"s":"atg-16.2(ok3224)|d","r":"daf-16 RNAi","v":168},{"s":"atg-16.2(ok3224)|d","r":"daf-16 RNAi","v":165},{"s":"atg-16.2(ok3224)|d","r":"daf-16 RNAi","v":160},{"s":"atg-16.2(ok3224)|d","r":"daf-16 RNAi","v":137},
{"s":"daf-2(e1370)|c","r":"control RNAi","v":190},{"s":"daf-2(e1370)|c","r":"control RNAi","v":185},{"s":"daf-2(e1370)|c","r":"control RNAi","v":178},{"s":"daf-2(e1370)|c","r":"control RNAi","v":172},{"s":"daf-2(e1370)|c","r":"control RNAi","v":168},{"s":"daf-2(e1370)|c","r":"control RNAi","v":165},{"s":"daf-2(e1370)|c","r":"control RNAi","v":163},{"s":"daf-2(e1370)|c","r":"control RNAi","v":161},{"s":"daf-2(e1370)|c","r":"control RNAi","v":159},{"s":"daf-2(e1370)|c","r":"control RNAi","v":157},{"s":"daf-2(e1370)|c","r":"control RNAi","v":156},{"s":"daf-2(e1370)|c","r":"control RNAi","v":155},{"s":"daf-2(e1370)|c","r":"control RNAi","v":154},{"s":"daf-2(e1370)|c","r":"control RNAi","v":153},{"s":"daf-2(e1370)|c","r":"control RNAi","v":152},{"s":"daf-2(e1370)|c","r":"control RNAi","v":151},{"s":"daf-2(e1370)|c","r":"control RNAi","v":150},{"s":"daf-2(e1370)|c","r":"control RNAi","v":149},{"s":"daf-2(e1370)|c","r":"control RNAi","v":148},{"s":"daf-2(e1370)|c","r":"control RNAi","v":146},{"s":"daf-2(e1370)|c","r":"control RNAi","v":144},{"s":"daf-2(e1370)|c","r":"control RNAi","v":142},{"s":"daf-2(e1370)|c","r":"control RNAi","v":140},{"s":"daf-2(e1370)|c","r":"control RNAi","v":138},{"s":"daf-2(e1370)|c","r":"control RNAi","v":135},{"s":"daf-2(e1370)|c","r":"control RNAi","v":132},{"s":"daf-2(e1370)|c","r":"control RNAi","v":128},{"s":"daf-2(e1370)|c","r":"control RNAi","v":125},{"s":"daf-2(e1370)|c","r":"control RNAi","v":123},
{"s":"daf-2(e1370)|d","r":"daf-16 RNAi","v":215},{"s":"daf-2(e1370)|d","r":"daf-16 RNAi","v":210},{"s":"daf-2(e1370)|d","r":"daf-16 RNAi","v":205},{"s":"daf-2(e1370)|d","r":"daf-16 RNAi","v":200},{"s":"daf-2(e1370)|d","r":"daf-16 RNAi","v":196},{"s":"daf-2(e1370)|d","r":"daf-16 RNAi","v":193},{"s":"daf-2(e1370)|d","r":"daf-16 RNAi","v":190},{"s":"daf-2(e1370)|d","r":"daf-16 RNAi","v":188},{"s":"daf-2(e1370)|d","r":"daf-16 RNAi","v":186},{"s":"daf-2(e1370)|d","r":"daf-16 RNAi","v":184},{"s":"daf-2(e1370)|d","r":"daf-16 RNAi","v":182},{"s":"daf-2(e1370)|d","r":"daf-16 RNAi","v":180},{"s":"daf-2(e1370)|d","r":"daf-16 RNAi","v":178},{"s":"daf-2(e1370)|d","r":"daf-16 RNAi","v":176},{"s":"daf-2(e1370)|d","r":"daf-16 RNAi","v":174},{"s":"daf-2(e1370)|d","r":"daf-16 RNAi","v":172},{"s":"daf-2(e1370)|d","r":"daf-16 RNAi","v":170},{"s":"daf-2(e1370)|d","r":"daf-16 RNAi","v":168},{"s":"daf-2(e1370)|d","r":"daf-16 RNAi","v":165},{"s":"daf-2(e1370)|d","r":"daf-16 RNAi","v":160},{"s":"daf-2(e1370)|d","r":"daf-16 RNAi","v":155},{"s":"daf-2(e1370)|d","r":"daf-16 RNAi","v":150},{"s":"daf-2(e1370)|d","r":"daf-16 RNAi","v":145}
],
"Cbr": [
{"a":"wild type|c","b":"bec-1(ok691)|c","l":291,"t":"****"},{"a":"wild type|c","b":"bec-1(ok700)|c","l":291,"t":"****"},{"a":"wild type|c","b":"atg-18(gk378)|c","l":291,"t":"****"},{"a":"wild type|c","b":"atg-16.2(ok3224)|c","l":291,"t":"****"},{"a":"wild type|c","b":"daf-2(e1370)|c","l":291,"t":"****"},
{"a":"wild type|c","b":"wild type|d","l":266,"t":"ns"},
{"a":"bec-1(ok691)|c","b":"bec-1(ok691)|d","l":230,"t":"ns"},{"a":"bec-1(ok700)|c","b":"bec-1(ok700)|d","l":230,"t":"ns"},{"a":"atg-18(gk378)|c","b":"atg-18(gk378)|d","l":230,"t":"****"},{"a":"atg-16.2(ok3224)|c","b":"atg-16.2(ok3224)|d","l":230,"t":"****"},{"a":"daf-2(e1370)|c","b":"daf-2(e1370)|d","l":230,"t":"***"}
],
"D": [
{"g":"wild type","v":252},{"g":"wild type","v":250},{"g":"wild type","v":246},{"g":"wild type","v":242},{"g":"wild type","v":238},{"g":"wild type","v":235},{"g":"wild type","v":232},{"g":"wild type","v":229},{"g":"wild type","v":226},{"g":"wild type","v":223},{"g":"wild type","v":220},{"g":"wild type","v":217},{"g":"wild type","v":214},{"g":"wild type","v":211},{"g":"wild type","v":208},{"g":"wild type","v":205},{"g":"wild type","v":202},{"g":"wild type","v":199},{"g":"wild type","v":196},{"g":"wild type","v":195},
{"g":"bec-1(ok691)","v":185},{"g":"bec-1(ok691)","v":172},{"g":"bec-1(ok691)","v":170},{"g":"bec-1(ok691)","v":168},{"g":"bec-1(ok691)","v":165},{"g":"bec-1(ok691)","v":162},{"g":"bec-1(ok691)","v":150},{"g":"bec-1(ok691)","v":120},{"g":"bec-1(ok691)","v":108},{"g":"bec-1(ok691)","v":85},{"g":"bec-1(ok691)","v":82},{"g":"bec-1(ok691)","v":75},
{"g":"daf-16; bec-1","v":188},{"g":"daf-16; bec-1","v":183},{"g":"daf-16; bec-1","v":178},{"g":"daf-16; bec-1","v":170},{"g":"daf-16; bec-1","v":165},{"g":"daf-16; bec-1","v":158},{"g":"daf-16; bec-1","v":155},{"g":"daf-16; bec-1","v":140},{"g":"daf-16; bec-1","v":125},{"g":"daf-16; bec-1","v":118},{"g":"daf-16; bec-1","v":115},{"g":"daf-16; bec-1","v":103},
{"g":"daf-16(mgDf50)","v":232},{"g":"daf-16(mgDf50)","v":230},{"g":"daf-16(mgDf50)","v":228},{"g":"daf-16(mgDf50)","v":226},{"g":"daf-16(mgDf50)","v":224},{"g":"daf-16(mgDf50)","v":222},{"g":"daf-16(mgDf50)","v":220},{"g":"daf-16(mgDf50)","v":218},{"g":"daf-16(mgDf50)","v":216},{"g":"daf-16(mgDf50)","v":214},{"g":"daf-16(mgDf50)","v":212},{"g":"daf-16(mgDf50)","v":210},{"g":"daf-16(mgDf50)","v":208},{"g":"daf-16(mgDf50)","v":206},{"g":"daf-16(mgDf50)","v":204},{"g":"daf-16(mgDf50)","v":202},{"g":"daf-16(mgDf50)","v":200},{"g":"daf-16(mgDf50)","v":198}
],
"Dbr": [
{"a":"wild type","b":"bec-1(ok691)","l":291,"t":"****"},{"a":"wild type","b":"daf-16; bec-1","l":291,"t":"****"},{"a":"wild type","b":"daf-16(mgDf50)","l":291,"t":"ns"},
{"a":"bec-1(ok691)","b":"daf-16; bec-1","l":262,"t":"ns"},
{"a":"daf-16; bec-1","b":"daf-16(mgDf50)","l":247,"t":"****"}
],
"E": [
{"s":"wt|control RNAi","v":245},{"s":"wt|control RNAi","v":243},{"s":"wt|control RNAi","v":242},{"s":"wt|control RNAi","v":240},{"s":"wt|control RNAi","v":238},{"s":"wt|control RNAi","v":236},{"s":"wt|control RNAi","v":230},{"s":"wt|control RNAi","v":205},{"s":"wt|control RNAi","v":190},
{"s":"wt|skn-1 RNAi","v":265},{"s":"wt|skn-1 RNAi","v":262},{"s":"wt|skn-1 RNAi","v":258},{"s":"wt|skn-1 RNAi","v":255},{"s":"wt|skn-1 RNAi","v":252},{"s":"wt|skn-1 RNAi","v":248},{"s":"wt|skn-1 RNAi","v":245},{"s":"wt|skn-1 RNAi","v":243},{"s":"wt|skn-1 RNAi","v":241},{"s":"wt|skn-1 RNAi","v":239},{"s":"wt|skn-1 RNAi","v":237},{"s":"wt|skn-1 RNAi","v":235},{"s":"wt|skn-1 RNAi","v":233},{"s":"wt|skn-1 RNAi","v":231},{"s":"wt|skn-1 RNAi","v":229},{"s":"wt|skn-1 RNAi","v":227},{"s":"wt|skn-1 RNAi","v":224},{"s":"wt|skn-1 RNAi","v":220},{"s":"wt|skn-1 RNAi","v":215},
{"s":"wt|daf-16 RNAi","v":268},{"s":"wt|daf-16 RNAi","v":235},{"s":"wt|daf-16 RNAi","v":230},{"s":"wt|daf-16 RNAi","v":228},{"s":"wt|daf-16 RNAi","v":225},{"s":"wt|daf-16 RNAi","v":222},{"s":"wt|daf-16 RNAi","v":218},{"s":"wt|daf-16 RNAi","v":215},{"s":"wt|daf-16 RNAi","v":212},{"s":"wt|daf-16 RNAi","v":205},{"s":"wt|daf-16 RNAi","v":200},{"s":"wt|daf-16 RNAi","v":190},
{"s":"bec|control RNAi","v":183},{"s":"bec|control RNAi","v":178},{"s":"bec|control RNAi","v":172},{"s":"bec|control RNAi","v":168},{"s":"bec|control RNAi","v":165},{"s":"bec|control RNAi","v":162},{"s":"bec|control RNAi","v":160},{"s":"bec|control RNAi","v":158},{"s":"bec|control RNAi","v":155},{"s":"bec|control RNAi","v":152},{"s":"bec|control RNAi","v":150},{"s":"bec|control RNAi","v":148},{"s":"bec|control RNAi","v":145},{"s":"bec|control RNAi","v":142},{"s":"bec|control RNAi","v":140},{"s":"bec|control RNAi","v":137},{"s":"bec|control RNAi","v":134},{"s":"bec|control RNAi","v":130},
{"s":"bec|skn-1 RNAi","v":288},{"s":"bec|skn-1 RNAi","v":272},{"s":"bec|skn-1 RNAi","v":262},{"s":"bec|skn-1 RNAi","v":225},{"s":"bec|skn-1 RNAi","v":222},{"s":"bec|skn-1 RNAi","v":215},{"s":"bec|skn-1 RNAi","v":208},{"s":"bec|skn-1 RNAi","v":200},{"s":"bec|skn-1 RNAi","v":195},{"s":"bec|skn-1 RNAi","v":188},{"s":"bec|skn-1 RNAi","v":180},{"s":"bec|skn-1 RNAi","v":172},{"s":"bec|skn-1 RNAi","v":160},
{"s":"bec|daf-16 RNAi","v":180},{"s":"bec|daf-16 RNAi","v":178},{"s":"bec|daf-16 RNAi","v":176},{"s":"bec|daf-16 RNAi","v":174},{"s":"bec|daf-16 RNAi","v":172},{"s":"bec|daf-16 RNAi","v":170},{"s":"bec|daf-16 RNAi","v":168},{"s":"bec|daf-16 RNAi","v":166},{"s":"bec|daf-16 RNAi","v":164},{"s":"bec|daf-16 RNAi","v":162},{"s":"bec|daf-16 RNAi","v":160},{"s":"bec|daf-16 RNAi","v":158},{"s":"bec|daf-16 RNAi","v":156},{"s":"bec|daf-16 RNAi","v":154},{"s":"bec|daf-16 RNAi","v":152},{"s":"bec|daf-16 RNAi","v":150},{"s":"bec|daf-16 RNAi","v":147},{"s":"bec|daf-16 RNAi","v":144},{"s":"bec|daf-16 RNAi","v":140}
],
"Ebr": [
{"a":"wt|skn-1 RNAi","b":"bec|skn-1 RNAi","l":386,"t":"**"},
{"a":"wt|control RNAi","b":"wt|skn-1 RNAi","l":341,"t":"ns"},{"a":"wt|control RNAi","b":"wt|daf-16 RNAi","l":341,"t":"ns"},
{"a":"bec|control RNAi","b":"bec|skn-1 RNAi","l":341,"t":"****"},{"a":"bec|control RNAi","b":"bec|daf-16 RNAi","l":341,"t":"ns"}
],
"Egl": [
{"lab":"wild type","a":"wt|control RNAi","m":"wt|skn-1 RNAi","b":"wt|daf-16 RNAi"},
{"lab":"bec-1(ok691)","a":"bec|control RNAi","m":"bec|skn-1 RNAi","b":"bec|daf-16 RNAi"}
],
"F": [
{"p":"control","g":"wild type, control RNAi","v":232},{"p":"control","g":"wild type, control RNAi","v":215},{"p":"control","g":"wild type, control RNAi","v":212},{"p":"control","g":"wild type, control RNAi","v":210},{"p":"control","g":"wild type, control RNAi","v":208},{"p":"control","g":"wild type, control RNAi","v":206},{"p":"control","g":"wild type, control RNAi","v":204},{"p":"control","g":"wild type, control RNAi","v":202},{"p":"control","g":"wild type, control RNAi","v":200},{"p":"control","g":"wild type, control RNAi","v":197},{"p":"control","g":"wild type, control RNAi","v":192},{"p":"control","g":"wild type, control RNAi","v":185},{"p":"control","g":"wild type, control RNAi","v":175},{"p":"control","g":"wild type, control RNAi","v":170},{"p":"control","g":"wild type, control RNAi","v":168},
{"p":"bec-1 RNAi","g":"wild type","v":197},{"p":"bec-1 RNAi","g":"wild type","v":185},{"p":"bec-1 RNAi","g":"wild type","v":180},{"p":"bec-1 RNAi","g":"wild type","v":178},{"p":"bec-1 RNAi","g":"wild type","v":176},{"p":"bec-1 RNAi","g":"wild type","v":174},{"p":"bec-1 RNAi","g":"wild type","v":172},{"p":"bec-1 RNAi","g":"wild type","v":170},{"p":"bec-1 RNAi","g":"wild type","v":168},{"p":"bec-1 RNAi","g":"wild type","v":166},{"p":"bec-1 RNAi","g":"wild type","v":164},{"p":"bec-1 RNAi","g":"wild type","v":162},{"p":"bec-1 RNAi","g":"wild type","v":160},{"p":"bec-1 RNAi","g":"wild type","v":158},{"p":"bec-1 RNAi","g":"wild type","v":156},{"p":"bec-1 RNAi","g":"wild type","v":155},{"p":"bec-1 RNAi","g":"wild type","v":154},{"p":"bec-1 RNAi","g":"wild type","v":152},{"p":"bec-1 RNAi","g":"wild type","v":150},{"p":"bec-1 RNAi","g":"wild type","v":148},{"p":"bec-1 RNAi","g":"wild type","v":147},{"p":"bec-1 RNAi","g":"wild type","v":146},{"p":"bec-1 RNAi","g":"wild type","v":145},
{"p":"bec-1 RNAi","g":"daf-7(e1372)","v":155},{"p":"bec-1 RNAi","g":"daf-7(e1372)","v":153},{"p":"bec-1 RNAi","g":"daf-7(e1372)","v":151},{"p":"bec-1 RNAi","g":"daf-7(e1372)","v":149},{"p":"bec-1 RNAi","g":"daf-7(e1372)","v":147},{"p":"bec-1 RNAi","g":"daf-7(e1372)","v":145},{"p":"bec-1 RNAi","g":"daf-7(e1372)","v":143},{"p":"bec-1 RNAi","g":"daf-7(e1372)","v":141},{"p":"bec-1 RNAi","g":"daf-7(e1372)","v":139},{"p":"bec-1 RNAi","g":"daf-7(e1372)","v":137},{"p":"bec-1 RNAi","g":"daf-7(e1372)","v":134},{"p":"bec-1 RNAi","g":"daf-7(e1372)","v":130},{"p":"bec-1 RNAi","g":"daf-7(e1372)","v":125},{"p":"bec-1 RNAi","g":"daf-7(e1372)","v":110},
{"p":"bec-1 RNAi","g":"daf-3(ok3610)","v":180},{"p":"bec-1 RNAi","g":"daf-3(ok3610)","v":172},{"p":"bec-1 RNAi","g":"daf-3(ok3610)","v":165},{"p":"bec-1 RNAi","g":"daf-3(ok3610)","v":160},{"p":"bec-1 RNAi","g":"daf-3(ok3610)","v":155},{"p":"bec-1 RNAi","g":"daf-3(ok3610)","v":150},{"p":"bec-1 RNAi","g":"daf-3(ok3610)","v":147},{"p":"bec-1 RNAi","g":"daf-3(ok3610)","v":144},{"p":"bec-1 RNAi","g":"daf-3(ok3610)","v":141},{"p":"bec-1 RNAi","g":"daf-3(ok3610)","v":138},{"p":"bec-1 RNAi","g":"daf-3(ok3610)","v":135},{"p":"bec-1 RNAi","g":"daf-3(ok3610)","v":132},{"p":"bec-1 RNAi","g":"daf-3(ok3610)","v":128},{"p":"bec-1 RNAi","g":"daf-3(ok3610)","v":124},{"p":"bec-1 RNAi","g":"daf-3(ok3610)","v":120},{"p":"bec-1 RNAi","g":"daf-3(ok3610)","v":115},{"p":"bec-1 RNAi","g":"daf-3(ok3610)","v":108},
{"p":"bec-1 RNAi","g":"daf-5(e1386)","v":185},{"p":"bec-1 RNAi","g":"daf-5(e1386)","v":172},{"p":"bec-1 RNAi","g":"daf-5(e1386)","v":162},{"p":"bec-1 RNAi","g":"daf-5(e1386)","v":158},{"p":"bec-1 RNAi","g":"daf-5(e1386)","v":156},{"p":"bec-1 RNAi","g":"daf-5(e1386)","v":154},{"p":"bec-1 RNAi","g":"daf-5(e1386)","v":152},{"p":"bec-1 RNAi","g":"daf-5(e1386)","v":150},{"p":"bec-1 RNAi","g":"daf-5(e1386)","v":148},{"p":"bec-1 RNAi","g":"daf-5(e1386)","v":146},{"p":"bec-1 RNAi","g":"daf-5(e1386)","v":144},{"p":"bec-1 RNAi","g":"daf-5(e1386)","v":142},{"p":"bec-1 RNAi","g":"daf-5(e1386)","v":140},{"p":"bec-1 RNAi","g":"daf-5(e1386)","v":138},
{"p":"atg-7 RNAi","g":"wild type","v":180},{"p":"atg-7 RNAi","g":"wild type","v":178},{"p":"atg-7 RNAi","g":"wild type","v":178},{"p":"atg-7 RNAi","g":"wild type","v":176},{"p":"atg-7 RNAi","g":"wild type","v":175},{"p":"atg-7 RNAi","g":"wild type","v":174},{"p":"atg-7 RNAi","g":"wild type","v":172},{"p":"atg-7 RNAi","g":"wild type","v":170},{"p":"atg-7 RNAi","g":"wild type","v":166},{"p":"atg-7 RNAi","g":"wild type","v":162},{"p":"atg-7 RNAi","g":"wild type","v":158},{"p":"atg-7 RNAi","g":"wild type","v":155},{"p":"atg-7 RNAi","g":"wild type","v":152},{"p":"atg-7 RNAi","g":"wild type","v":150},{"p":"atg-7 RNAi","g":"wild type","v":148},{"p":"atg-7 RNAi","g":"wild type","v":146},{"p":"atg-7 RNAi","g":"wild type","v":145},{"p":"atg-7 RNAi","g":"wild type","v":144},{"p":"atg-7 RNAi","g":"wild type","v":143},{"p":"atg-7 RNAi","g":"wild type","v":142},{"p":"atg-7 RNAi","g":"wild type","v":141},{"p":"atg-7 RNAi","g":"wild type","v":140},{"p":"atg-7 RNAi","g":"wild type","v":139},{"p":"atg-7 RNAi","g":"wild type","v":138},
{"p":"atg-7 RNAi","g":"daf-7(e1372)","v":190},{"p":"atg-7 RNAi","g":"daf-7(e1372)","v":178},{"p":"atg-7 RNAi","g":"daf-7(e1372)","v":175},{"p":"atg-7 RNAi","g":"daf-7(e1372)","v":172},{"p":"atg-7 RNAi","g":"daf-7(e1372)","v":170},{"p":"atg-7 RNAi","g":"daf-7(e1372)","v":168},{"p":"atg-7 RNAi","g":"daf-7(e1372)","v":165},{"p":"atg-7 RNAi","g":"daf-7(e1372)","v":162},{"p":"atg-7 RNAi","g":"daf-7(e1372)","v":158},{"p":"atg-7 RNAi","g":"daf-7(e1372)","v":155},{"p":"atg-7 RNAi","g":"daf-7(e1372)","v":152},{"p":"atg-7 RNAi","g":"daf-7(e1372)","v":148},{"p":"atg-7 RNAi","g":"daf-7(e1372)","v":145},{"p":"atg-7 RNAi","g":"daf-7(e1372)","v":140},{"p":"atg-7 RNAi","g":"daf-7(e1372)","v":138},
{"p":"atg-7 RNAi","g":"daf-3(ok3610)","v":202},{"p":"atg-7 RNAi","g":"daf-3(ok3610)","v":198},{"p":"atg-7 RNAi","g":"daf-3(ok3610)","v":195},{"p":"atg-7 RNAi","g":"daf-3(ok3610)","v":190},{"p":"atg-7 RNAi","g":"daf-3(ok3610)","v":186},{"p":"atg-7 RNAi","g":"daf-3(ok3610)","v":182},{"p":"atg-7 RNAi","g":"daf-3(ok3610)","v":178},{"p":"atg-7 RNAi","g":"daf-3(ok3610)","v":175},{"p":"atg-7 RNAi","g":"daf-3(ok3610)","v":170},{"p":"atg-7 RNAi","g":"daf-3(ok3610)","v":162},{"p":"atg-7 RNAi","g":"daf-3(ok3610)","v":153},
{"p":"atg-7 RNAi","g":"daf-5(e1386)","v":193},{"p":"atg-7 RNAi","g":"daf-5(e1386)","v":190},{"p":"atg-7 RNAi","g":"daf-5(e1386)","v":187},{"p":"atg-7 RNAi","g":"daf-5(e1386)","v":184},{"p":"atg-7 RNAi","g":"daf-5(e1386)","v":182},{"p":"atg-7 RNAi","g":"daf-5(e1386)","v":180},{"p":"atg-7 RNAi","g":"daf-5(e1386)","v":178},{"p":"atg-7 RNAi","g":"daf-5(e1386)","v":176},{"p":"atg-7 RNAi","g":"daf-5(e1386)","v":174},{"p":"atg-7 RNAi","g":"daf-5(e1386)","v":172},{"p":"atg-7 RNAi","g":"daf-5(e1386)","v":170},{"p":"atg-7 RNAi","g":"daf-5(e1386)","v":168},{"p":"atg-7 RNAi","g":"daf-5(e1386)","v":165},
{"p":"cup-5 RNAi","g":"wild type","v":205},{"p":"cup-5 RNAi","g":"wild type","v":202},{"p":"cup-5 RNAi","g":"wild type","v":198},{"p":"cup-5 RNAi","g":"wild type","v":194},{"p":"cup-5 RNAi","g":"wild type","v":190},{"p":"cup-5 RNAi","g":"wild type","v":187},{"p":"cup-5 RNAi","g":"wild type","v":184},{"p":"cup-5 RNAi","g":"wild type","v":181},{"p":"cup-5 RNAi","g":"wild type","v":178},{"p":"cup-5 RNAi","g":"wild type","v":176},{"p":"cup-5 RNAi","g":"wild type","v":174},{"p":"cup-5 RNAi","g":"wild type","v":172},{"p":"cup-5 RNAi","g":"wild type","v":170},{"p":"cup-5 RNAi","g":"wild type","v":168},{"p":"cup-5 RNAi","g":"wild type","v":166},{"p":"cup-5 RNAi","g":"wild type","v":164},{"p":"cup-5 RNAi","g":"wild type","v":162},{"p":"cup-5 RNAi","g":"wild type","v":160},{"p":"cup-5 RNAi","g":"wild type","v":158},{"p":"cup-5 RNAi","g":"wild type","v":156},{"p":"cup-5 RNAi","g":"wild type","v":155},
{"p":"cup-5 RNAi","g":"daf-7(e1372)","v":160},{"p":"cup-5 RNAi","g":"daf-7(e1372)","v":157},{"p":"cup-5 RNAi","g":"daf-7(e1372)","v":154},{"p":"cup-5 RNAi","g":"daf-7(e1372)","v":151},{"p":"cup-5 RNAi","g":"daf-7(e1372)","v":148},{"p":"cup-5 RNAi","g":"daf-7(e1372)","v":145},{"p":"cup-5 RNAi","g":"daf-7(e1372)","v":142},{"p":"cup-5 RNAi","g":"daf-7(e1372)","v":139},{"p":"cup-5 RNAi","g":"daf-7(e1372)","v":136},{"p":"cup-5 RNAi","g":"daf-7(e1372)","v":132},{"p":"cup-5 RNAi","g":"daf-7(e1372)","v":128},{"p":"cup-5 RNAi","g":"daf-7(e1372)","v":120},{"p":"cup-5 RNAi","g":"daf-7(e1372)","v":104},
{"p":"cup-5 RNAi","g":"daf-3(ok3610)","v":180},{"p":"cup-5 RNAi","g":"daf-3(ok3610)","v":178},{"p":"cup-5 RNAi","g":"daf-3(ok3610)","v":176},{"p":"cup-5 RNAi","g":"daf-3(ok3610)","v":172},{"p":"cup-5 RNAi","g":"daf-3(ok3610)","v":168},{"p":"cup-5 RNAi","g":"daf-3(ok3610)","v":162},{"p":"cup-5 RNAi","g":"daf-3(ok3610)","v":158},{"p":"cup-5 RNAi","g":"daf-3(ok3610)","v":155},{"p":"cup-5 RNAi","g":"daf-3(ok3610)","v":152},{"p":"cup-5 RNAi","g":"daf-3(ok3610)","v":150},{"p":"cup-5 RNAi","g":"daf-3(ok3610)","v":148},{"p":"cup-5 RNAi","g":"daf-3(ok3610)","v":146},{"p":"cup-5 RNAi","g":"daf-3(ok3610)","v":144},{"p":"cup-5 RNAi","g":"daf-3(ok3610)","v":142},{"p":"cup-5 RNAi","g":"daf-3(ok3610)","v":140},{"p":"cup-5 RNAi","g":"daf-3(ok3610)","v":138},{"p":"cup-5 RNAi","g":"daf-3(ok3610)","v":135},
{"p":"cup-5 RNAi","g":"daf-5(e1386)","v":160},{"p":"cup-5 RNAi","g":"daf-5(e1386)","v":155},{"p":"cup-5 RNAi","g":"daf-5(e1386)","v":150},{"p":"cup-5 RNAi","g":"daf-5(e1386)","v":145},{"p":"cup-5 RNAi","g":"daf-5(e1386)","v":140},{"p":"cup-5 RNAi","g":"daf-5(e1386)","v":136},{"p":"cup-5 RNAi","g":"daf-5(e1386)","v":133},{"p":"cup-5 RNAi","g":"daf-5(e1386)","v":130},{"p":"cup-5 RNAi","g":"daf-5(e1386)","v":127},{"p":"cup-5 RNAi","g":"daf-5(e1386)","v":124},{"p":"cup-5 RNAi","g":"daf-5(e1386)","v":120},{"p":"cup-5 RNAi","g":"daf-5(e1386)","v":117},{"p":"cup-5 RNAi","g":"daf-5(e1386)","v":112},{"p":"cup-5 RNAi","g":"daf-5(e1386)","v":108},{"p":"cup-5 RNAi","g":"daf-5(e1386)","v":102}
],
"Fbr": [
{"p":"bec-1 RNAi","a":"wild type","b":"wild type, control RNAi","l":260,"t":"****"},{"p":"bec-1 RNAi","a":"wild type","b":"daf-7(e1372)","l":260,"t":"***"},{"p":"bec-1 RNAi","a":"wild type","b":"daf-3(ok3610)","l":260,"t":"***"},{"p":"bec-1 RNAi","a":"wild type","b":"daf-5(e1386)","l":260,"t":"ns"},
{"p":"atg-7 RNAi","a":"wild type","b":"wild type, control RNAi","l":260,"t":"****"},{"p":"atg-7 RNAi","a":"wild type","b":"daf-7(e1372)","l":260,"t":"ns"},{"p":"atg-7 RNAi","a":"wild type","b":"daf-3(ok3610)","l":260,"t":"****"},{"p":"atg-7 RNAi","a":"wild type","b":"daf-5(e1386)","l":260,"t":"**"},
{"p":"cup-5 RNAi","a":"wild type","b":"wild type, control RNAi","l":260,"t":"****"},{"p":"cup-5 RNAi","a":"wild type","b":"daf-7(e1372)","l":260,"t":"****"},{"p":"cup-5 RNAi","a":"wild type","b":"daf-3(ok3610)","l":260,"t":"***"},{"p":"cup-5 RNAi","a":"wild type","b":"daf-5(e1386)","l":260,"t":"****"}
],
"Fgl": [
{"p":"bec-1 RNAi","lab":"bec-1 RNAi","a":"wild type","m":"daf-3(ok3610)","b":"daf-5(e1386)"},
{"p":"atg-7 RNAi","lab":"atg-7 RNAi","a":"wild type","m":"daf-3(ok3610)","b":"daf-5(e1386)"},
{"p":"cup-5 RNAi","lab":"cup-5 RNAi","a":"wild type","m":"daf-3(ok3610)","b":"daf-5(e1386)"}
]
},
"resolve": {"scale": {"color": "independent", "shape": "independent", "fill": "independent"}},
"spacing": 304,
"bounds": "flush",
"vconcat": [
{"hconcat": [
 {"width": 201, "height": 197,
  "title": {"text": "A", "dx": -39, "dy": -2},
  "layer": [
   {"data": {"name": "A"}, "layer": [
     {"transform": [{"bin": {"step": 12}, "field": "v", "as": "vb"}, {"window": [{"op": "row_number", "as": "k"}], "groupby": ["g", "vb"], "sort": [{"field": "v"}]}],
      "mark": {"type": "point", "filled": true, "opacity": 1, "size": 60, "stroke": "black", "strokeWidth": 1},
      "encoding": {
        "x": {"field": "g", "type": "nominal", "title": null, "scale": {"domain": ["wild type","bec-1(ok691)","daf-2(e1370)","daf-2; bec-1"], "paddingInner": 0, "paddingOuter": 0.2}, "axis": {"labelFontSize": 13, "labelFontStyle": {"condition": {"test": "datum.value == 'wild type'", "value": "normal"}, "value": "italic"}}},
        "xOffset": {"field": "k", "type": "ordinal", "scale": {"domain": [12,10,8,6,4,2,1,3,5,7,9,11,13], "range": [-9.66, 55.34], "paddingInner": 0, "paddingOuter": 0}},
        "y": {"field": "v", "type": "quantitative", "title": "# of mitotic zone nuclei", "scale": {"domain": [0, 300]}, "axis": {"values": [0,100,200,300]}},
        "shape": {"field": "g", "type": "nominal", "scale": {"domain": ["wild type","bec-1(ok691)","daf-2(e1370)","daf-2; bec-1"], "range": ["circle","triangle-down","M0,-1L0.235,-0.324L0.951,-0.309L0.38,0.124L0.588,0.809L0,0.4L-0.588,0.809L-0.38,0.124L-0.951,-0.309L-0.235,-0.324Z","circle"]}, "legend": null},
        "fill": {"condition": {"test": "datum.g == 'daf-2; bec-1'", "value": "#c8c8c8"}, "value": "black"}
      }},
     {"mark": {"type": "errorbar", "extent": "stderr", "ticks": true, "color": "red", "size": 22, "thickness": 1.5},
      "encoding": {"x": {"field": "g", "type": "nominal", "title": null}, "y": {"field": "v", "type": "quantitative", "title": "# of mitotic zone nuclei"}}},
     {"mark": {"type": "tick", "color": "red", "size": 32, "thickness": 2},
      "encoding": {"x": {"field": "g", "type": "nominal", "title": null}, "y": {"field": "v", "aggregate": "mean", "type": "quantitative", "title": "# of mitotic zone nuclei"}}}
   ]},
   {"data": {"name": "Abr"}, "layer": [
     {"mark": {"type": "rule", "color": "black", "strokeWidth": 1.5}, "encoding": {"x": {"field": "a", "type": "nominal", "title": null}, "x2": {"field": "b"}, "y": {"field": "l", "type": "quantitative", "title": "# of mitotic zone nuclei"}}},
     {"mark": {"type": "tick", "orient": "vertical", "color": "red", "size": 5, "thickness": 1.5, "yOffset": 2.5}, "encoding": {"x": {"field": "a", "type": "nominal", "title": null}, "y": {"field": "l", "type": "quantitative", "title": "# of mitotic zone nuclei"}}},
     {"mark": {"type": "tick", "orient": "vertical", "color": "black", "size": 5, "thickness": 1.5, "yOffset": 2.5}, "encoding": {"x": {"field": "b", "type": "nominal", "title": null}, "y": {"field": "l", "type": "quantitative", "title": "# of mitotic zone nuclei"}}},
     {"transform": [{"filter": "datum.t != 'ns'"}], "mark": {"type": "text", "fontSize": 12, "baseline": "alphabetic", "dy": 1}, "encoding": {"x": {"field": "b", "type": "nominal", "title": null}, "y": {"field": "l", "type": "quantitative", "title": "# of mitotic zone nuclei"}, "text": {"field": "t"}}},
     {"transform": [{"filter": "datum.t == 'ns'"}], "mark": {"type": "text", "fontSize": 13, "baseline": "alphabetic", "dy": -3}, "encoding": {"x": {"field": "b", "type": "nominal", "title": null}, "y": {"field": "l", "type": "quantitative", "title": "# of mitotic zone nuclei"}, "text": {"field": "t"}}}
   ]}
  ]},
 {"width": 452, "height": 196,
  "title": {"text": "B", "dx": -31, "dy": 20},
  "layer": [
   {"data": {"name": "B"}, "layer": [
     {"transform": [{"bin": {"step": 9}, "field": "v", "as": "vb"}, {"window": [{"op": "row_number", "as": "k"}], "groupby": ["s", "vb"], "sort": [{"field": "v"}]}],
      "mark": {"type": "point", "filled": true, "opacity": 1, "size": 45, "strokeWidth": 0},
      "encoding": {
        "x": {"field": "s", "type": "nominal", "title": null, "scale": {"domain": ["wild type|c","wild type|d","bec-1(ok691)|c","bec-1(ok691)|d","bec-1(ok700)|c","bec-1(ok700)|d","atg-7(bp411)|c","atg-7(bp411)|d","atg-18(gk378)|c","atg-18(gk378)|d","atg-16.2(ok3224)|c","atg-16.2(ok3224)|d","daf-2(e1370)|c","daf-2(e1370)|d"], "paddingInner": 0, "paddingOuter": 0.196},
              "axis": {"values": ["wild type|c","bec-1(ok691)|c","bec-1(ok700)|c","atg-7(bp411)|c","atg-18(gk378)|c","atg-16.2(ok3224)|c","daf-2(e1370)|c"], "tickOffset": 15.7, "labelExpr": "split(datum.value, '|')[0]", "labelFontSize": 13, "labelFontStyle": {"condition": {"test": "indexof(datum.value, 'wild type') == 0", "value": "normal"}, "value": "italic"}}},
        "xOffset": {"field": "k", "type": "ordinal", "scale": {"domain": [12,10,8,6,4,2,1,3,5,7,9,11,13], "range": [-7.05, 38.45], "paddingInner": 0, "paddingOuter": 0}},
        "y": {"field": "v", "type": "quantitative", "title": "# of mitotic zone nuclei", "scale": {"domain": [0, 300]}, "axis": {"values": [0,100,200,300]}},
        "color": {"field": "r", "type": "nominal", "scale": {"domain": ["control RNAi","daf-18 RNAi"], "range": ["#000000","#9d9d9d"]}, "legend": {"orient": "none", "legendX": 12, "legendY": -26, "direction": "horizontal", "title": null, "symbolType": "square", "symbolSize": 144, "symbolStrokeWidth": 0, "symbolOpacity": 1, "labelFontSize": 13, "columnPadding": 20, "labelOffset": 3}},
        "shape": {"field": "s", "type": "nominal", "scale": {"domain": ["wild type|c","wild type|d","bec-1(ok691)|c","bec-1(ok691)|d","bec-1(ok700)|c","bec-1(ok700)|d","atg-7(bp411)|c","atg-7(bp411)|d","atg-18(gk378)|c","atg-18(gk378)|d","atg-16.2(ok3224)|c","atg-16.2(ok3224)|d","daf-2(e1370)|c","daf-2(e1370)|d"], "range": ["circle","circle","triangle-down","triangle-down","circle","circle","triangle-up","triangle-up","diamond","diamond","square","square","M0,-1L0.235,-0.324L0.951,-0.309L0.38,0.124L0.588,0.809L0,0.4L-0.588,0.809L-0.38,0.124L-0.951,-0.309L-0.235,-0.324Z","M0,-1L0.235,-0.324L0.951,-0.309L0.38,0.124L0.588,0.809L0,0.4L-0.588,0.809L-0.38,0.124L-0.951,-0.309L-0.235,-0.324Z"]}, "legend": null}
      }},
     {"mark": {"type": "errorbar", "extent": "stderr", "ticks": true, "color": "red", "size": 15, "thickness": 1.5},
      "encoding": {"x": {"field": "s", "type": "nominal", "title": null}, "y": {"field": "v", "type": "quantitative", "title": "# of mitotic zone nuclei"}}},
     {"mark": {"type": "tick", "color": "red", "size": 21, "thickness": 2},
      "encoding": {"x": {"field": "s", "type": "nominal", "title": null}, "y": {"field": "v", "aggregate": "mean", "type": "quantitative", "title": "# of mitotic zone nuclei"}}}
   ]},
   {"data": {"name": "Bbr"}, "layer": [
     {"mark": {"type": "rule", "color": "black", "strokeWidth": 1.5}, "encoding": {"x": {"field": "a", "type": "nominal", "title": null}, "x2": {"field": "b"}, "y": {"field": "l", "type": "quantitative", "title": "# of mitotic zone nuclei"}}},
     {"mark": {"type": "tick", "orient": "vertical", "color": "red", "size": 5, "thickness": 1.5, "yOffset": 2.5}, "encoding": {"x": {"field": "a", "type": "nominal", "title": null}, "y": {"field": "l", "type": "quantitative", "title": "# of mitotic zone nuclei"}}},
     {"mark": {"type": "tick", "orient": "vertical", "color": "black", "size": 5, "thickness": 1.5, "yOffset": 2.5}, "encoding": {"x": {"field": "b", "type": "nominal", "title": null}, "y": {"field": "l", "type": "quantitative", "title": "# of mitotic zone nuclei"}}},
     {"transform": [{"filter": "datum.t != 'ns'"}], "mark": {"type": "text", "fontSize": 11, "baseline": "alphabetic", "dy": 1}, "encoding": {"x": {"field": "b", "type": "nominal", "title": null}, "y": {"field": "l", "type": "quantitative", "title": "# of mitotic zone nuclei"}, "text": {"field": "t"}}},
     {"transform": [{"filter": "datum.t == 'ns'"}], "mark": {"type": "text", "fontSize": 13, "baseline": "alphabetic", "dy": -3}, "encoding": {"x": {"field": "b", "type": "nominal", "title": null}, "y": {"field": "l", "type": "quantitative", "title": "# of mitotic zone nuclei"}, "text": {"field": "t"}}}
   ]}
  ]}
 ], "spacing": 35, "bounds": "flush", "resolve": {"scale": {"color": "independent", "shape": "independent", "fill": "independent"}}},
{"vconcat": [
 {"hconcat": [
  {"width": 455, "height": 203,
   "title": {"text": "C", "dx": -44, "dy": 21},
   "layer": [
    {"data": {"name": "C"}, "layer": [
      {"transform": [{"bin": {"step": 8}, "field": "v", "as": "vb"}, {"window": [{"op": "row_number", "as": "k"}], "groupby": ["s", "vb"], "sort": [{"field": "v"}]}],
       "mark": {"type": "point", "filled": true, "opacity": 1, "size": 45, "strokeWidth": 0},
       "encoding": {
         "x": {"field": "s", "type": "nominal", "title": null, "scale": {"domain": ["wild type|c","wild type|d","bec-1(ok691)|c","bec-1(ok691)|d","bec-1(ok700)|c","bec-1(ok700)|d","atg-18(gk378)|c","atg-18(gk378)|d","atg-16.2(ok3224)|c","atg-16.2(ok3224)|d","daf-2(e1370)|c","daf-2(e1370)|d"], "paddingInner": 0, "paddingOuter": 0.18},
               "axis": {"values": ["wild type|c","bec-1(ok691)|c","bec-1(ok700)|c","atg-18(gk378)|c","atg-16.2(ok3224)|c","daf-2(e1370)|c"], "tickOffset": 18.4, "labelExpr": "split(datum.value, '|')[0]", "labelFontSize": 13, "labelFontStyle": {"condition": {"test": "indexof(datum.value, 'wild type') == 0", "value": "normal"}, "value": "italic"}}},
         "xOffset": {"field": "k", "type": "ordinal", "scale": {"domain": [12,10,8,6,4,2,1,3,5,7,9,11,13], "range": [-7.6, 44.4], "paddingInner": 0, "paddingOuter": 0}},
         "y": {"field": "v", "type": "quantitative", "title": "# of mitotic zone nuclei", "scale": {"domain": [0, 300]}, "axis": {"values": [0,100,200,300], "titleFontSize": 13}},
         "color": {"field": "r", "type": "nominal", "scale": {"domain": ["control RNAi","daf-16 RNAi"], "range": ["#000000","#9d9d9d"]}, "legend": {"orient": "none", "legendX": 25, "legendY": -16, "direction": "horizontal", "title": null, "symbolType": "square", "symbolSize": 144, "symbolStrokeWidth": 0, "symbolOpacity": 1, "labelFontSize": 13, "columnPadding": 20, "labelOffset": 3}},
         "shape": {"field": "s", "type": "nominal", "scale": {"domain": ["wild type|c","wild type|d","bec-1(ok691)|c","bec-1(ok691)|d","bec-1(ok700)|c","bec-1(ok700)|d","atg-18(gk378)|c","atg-18(gk378)|d","atg-16.2(ok3224)|c","atg-16.2(ok3224)|d","daf-2(e1370)|c","daf-2(e1370)|d"], "range": ["circle","circle","triangle-down","triangle-down","circle","circle","diamond","diamond","square","square","M0,-1L0.235,-0.324L0.951,-0.309L0.38,0.124L0.588,0.809L0,0.4L-0.588,0.809L-0.38,0.124L-0.951,-0.309L-0.235,-0.324Z","M0,-1L0.235,-0.324L0.951,-0.309L0.38,0.124L0.588,0.809L0,0.4L-0.588,0.809L-0.38,0.124L-0.951,-0.309L-0.235,-0.324Z"]}, "legend": null}
       }},
      {"mark": {"type": "errorbar", "extent": "stderr", "ticks": true, "color": "red", "size": 15, "thickness": 1.5},
       "encoding": {"x": {"field": "s", "type": "nominal", "title": null}, "y": {"field": "v", "type": "quantitative", "title": "# of mitotic zone nuclei"}}},
      {"mark": {"type": "tick", "color": "red", "size": 24, "thickness": 2},
       "encoding": {"x": {"field": "s", "type": "nominal", "title": null}, "y": {"field": "v", "aggregate": "mean", "type": "quantitative", "title": "# of mitotic zone nuclei"}}}
    ]},
    {"data": {"name": "Cbr"}, "layer": [
      {"mark": {"type": "rule", "color": "black", "strokeWidth": 1.5}, "encoding": {"x": {"field": "a", "type": "nominal", "title": null}, "x2": {"field": "b"}, "y": {"field": "l", "type": "quantitative", "title": "# of mitotic zone nuclei"}}},
      {"mark": {"type": "tick", "orient": "vertical", "color": "red", "size": 5, "thickness": 1.5, "yOffset": 2.5}, "encoding": {"x": {"field": "a", "type": "nominal", "title": null}, "y": {"field": "l", "type": "quantitative", "title": "# of mitotic zone nuclei"}}},
      {"mark": {"type": "tick", "orient": "vertical", "color": "black", "size": 5, "thickness": 1.5, "yOffset": 2.5}, "encoding": {"x": {"field": "b", "type": "nominal", "title": null}, "y": {"field": "l", "type": "quantitative", "title": "# of mitotic zone nuclei"}}},
      {"transform": [{"filter": "datum.t != 'ns'"}], "mark": {"type": "text", "fontSize": 11, "baseline": "alphabetic", "dy": 1}, "encoding": {"x": {"field": "b", "type": "nominal", "title": null}, "y": {"field": "l", "type": "quantitative", "title": "# of mitotic zone nuclei"}, "text": {"field": "t"}}},
      {"transform": [{"filter": "datum.t == 'ns'"}], "mark": {"type": "text", "fontSize": 13, "baseline": "alphabetic", "dy": -3}, "encoding": {"x": {"field": "b", "type": "nominal", "title": null}, "y": {"field": "l", "type": "quantitative", "title": "# of mitotic zone nuclei"}, "text": {"field": "t"}}}
    ]}
   ]},
  {"width": 198, "height": 200,
   "title": {"text": "D", "dx": -44, "dy": 10},
   "layer": [
    {"data": {"name": "D"}, "layer": [
      {"transform": [{"bin": {"step": 14}, "field": "v", "as": "vb"}, {"window": [{"op": "row_number", "as": "k"}], "groupby": ["g", "vb"], "sort": [{"field": "v"}]}],
       "mark": {"type": "point", "filled": true, "opacity": 1, "size": 75, "strokeWidth": 0, "color": "black"},
       "encoding": {
         "x": {"field": "g", "type": "nominal", "title": null, "scale": {"domain": ["wild type","bec-1(ok691)","daf-16; bec-1","daf-16(mgDf50)"], "paddingInner": 0, "paddingOuter": 0.166}, "axis": {"labelFontSize": 13, "labelFontStyle": {"condition": {"test": "datum.value == 'wild type'", "value": "normal"}, "value": "italic"}}},
         "xOffset": {"field": "k", "type": "ordinal", "scale": {"domain": [12,10,8,6,4,2,1,3,5,7,9,11,13], "range": [-16.15, 61.85], "paddingInner": 0, "paddingOuter": 0}},
         "y": {"field": "v", "type": "quantitative", "title": "# of mitotic zone nuclei", "scale": {"domain": [0, 300]}, "axis": {"values": [0,100,200,300], "titlePadding": 6}},
         "shape": {"field": "g", "type": "nominal", "scale": {"domain": ["wild type","bec-1(ok691)","daf-16; bec-1","daf-16(mgDf50)"], "range": ["circle","triangle-down","square","M-1,-0.6L-0.6,-1L0,-0.4L0.6,-1L1,-0.6L0.4,0L1,0.6L0.6,1L0,0.4L-0.6,1L-1,0.6L-0.4,0Z"]}, "legend": null}
       }},
      {"mark": {"type": "errorbar", "extent": "stderr", "ticks": true, "color": "red", "size": 17, "thickness": 1.5},
       "encoding": {"x": {"field": "g", "type": "nominal", "title": null}, "y": {"field": "v", "type": "quantitative", "title": "# of mitotic zone nuclei"}}},
      {"mark": {"type": "tick", "color": "red", "size": 31, "thickness": 2},
       "encoding": {"x": {"field": "g", "type": "nominal", "title": null}, "y": {"field": "v", "aggregate": "mean", "type": "quantitative", "title": "# of mitotic zone nuclei"}}}
    ]},
    {"data": {"name": "Dbr"}, "layer": [
      {"mark": {"type": "rule", "color": "black", "strokeWidth": 1.5}, "encoding": {"x": {"field": "a", "type": "nominal", "title": null}, "x2": {"field": "b"}, "y": {"field": "l", "type": "quantitative", "title": "# of mitotic zone nuclei"}}},
      {"mark": {"type": "tick", "orient": "vertical", "color": "red", "size": 5, "thickness": 1.5, "yOffset": 2.5}, "encoding": {"x": {"field": "a", "type": "nominal", "title": null}, "y": {"field": "l", "type": "quantitative", "title": "# of mitotic zone nuclei"}}},
      {"mark": {"type": "tick", "orient": "vertical", "color": "black", "size": 5, "thickness": 1.5, "yOffset": 2.5}, "encoding": {"x": {"field": "b", "type": "nominal", "title": null}, "y": {"field": "l", "type": "quantitative", "title": "# of mitotic zone nuclei"}}},
      {"transform": [{"filter": "datum.t != 'ns'"}], "mark": {"type": "text", "fontSize": 11, "baseline": "alphabetic", "dy": 1}, "encoding": {"x": {"field": "b", "type": "nominal", "title": null}, "y": {"field": "l", "type": "quantitative", "title": "# of mitotic zone nuclei"}, "text": {"field": "t"}}},
      {"transform": [{"filter": "datum.t == 'ns'"}], "mark": {"type": "text", "fontSize": 13, "baseline": "alphabetic", "dy": -2}, "encoding": {"x": {"field": "b", "type": "nominal", "title": null}, "y": {"field": "l", "type": "quantitative", "title": "# of mitotic zone nuclei"}, "text": {"field": "t"}}}
    ]}
   ]}
 ], "spacing": 90, "bounds": "flush", "resolve": {"scale": {"color": "independent", "shape": "independent", "fill": "independent"}}},
 {"hconcat": [
  {"width": 179, "height": 197,
   "title": {"text": "E", "dx": -45, "dy": 11},
   "layer": [
    {"data": {"name": "E"}, "layer": [
      {"transform": [{"bin": {"step": 14}, "field": "v", "as": "vb"}, {"window": [{"op": "row_number", "as": "k"}], "groupby": ["s", "vb"], "sort": [{"field": "v"}]}],
       "mark": {"type": "point", "filled": true, "opacity": 1, "size": 50, "strokeWidth": 0, "color": "#9a9a9a"},
       "encoding": {
         "x": {"field": "s", "type": "nominal", "title": null, "scale": {"domain": ["wt|control RNAi","wt|skn-1 RNAi","wt|daf-16 RNAi","bec|control RNAi","bec|skn-1 RNAi","bec|daf-16 RNAi"], "paddingInner": 0, "paddingOuter": 0.086},
               "axis": {"labelExpr": "split(datum.value, '|')[1]", "labelFontSize": 12, "labelPadding": 27, "labelFontStyle": {"condition": {"test": "indexof(datum.value, 'control RNAi') >= 0", "value": "normal"}, "value": "italic"}}},
         "xOffset": {"field": "k", "type": "ordinal", "scale": {"domain": [12,10,8,6,4,2,1,3,5,7,9,11,13], "range": [-14.75, 43.75], "paddingInner": 0, "paddingOuter": 0}},
         "y": {"field": "v", "type": "quantitative", "title": "# of mitotic zone nuclei", "scale": {"domain": [0, 400]}, "axis": {"values": [0,100,200,300,400], "titlePadding": 3}},
         "shape": {"field": "s", "type": "nominal", "scale": {"domain": ["wt|control RNAi","wt|skn-1 RNAi","wt|daf-16 RNAi","bec|control RNAi","bec|skn-1 RNAi","bec|daf-16 RNAi"], "range": ["circle","circle","triangle-up","diamond","diamond","square"]}, "legend": null}
       }},
      {"mark": {"type": "errorbar", "extent": "stderr", "ticks": true, "color": "red", "size": 14, "thickness": 1.5},
       "encoding": {"x": {"field": "s", "type": "nominal", "title": null}, "y": {"field": "v", "type": "quantitative", "title": "# of mitotic zone nuclei"}}},
      {"mark": {"type": "tick", "color": "red", "size": 24, "thickness": 2},
       "encoding": {"x": {"field": "s", "type": "nominal", "title": null}, "y": {"field": "v", "aggregate": "mean", "type": "quantitative", "title": "# of mitotic zone nuclei"}}}
    ]},
    {"data": {"name": "Ebr"}, "layer": [
      {"mark": {"type": "rule", "color": "black", "strokeWidth": 1.5}, "encoding": {"x": {"field": "a", "type": "nominal", "title": null}, "x2": {"field": "b"}, "y": {"field": "l", "type": "quantitative", "title": "# of mitotic zone nuclei"}}},
      {"mark": {"type": "tick", "orient": "vertical", "color": "red", "size": 5, "thickness": 1.5, "yOffset": 2.5}, "encoding": {"x": {"field": "a", "type": "nominal", "title": null}, "y": {"field": "l", "type": "quantitative", "title": "# of mitotic zone nuclei"}}},
      {"mark": {"type": "tick", "orient": "vertical", "color": "black", "size": 5, "thickness": 1.5, "yOffset": 2.5}, "encoding": {"x": {"field": "b", "type": "nominal", "title": null}, "y": {"field": "l", "type": "quantitative", "title": "# of mitotic zone nuclei"}}},
      {"transform": [{"filter": "datum.t != 'ns'"}], "mark": {"type": "text", "fontSize": 11, "baseline": "alphabetic", "dy": 1}, "encoding": {"x": {"field": "b", "type": "nominal", "title": null}, "y": {"field": "l", "type": "quantitative", "title": "# of mitotic zone nuclei"}, "text": {"field": "t"}}},
      {"transform": [{"filter": "datum.t == 'ns'"}], "mark": {"type": "text", "fontSize": 13, "baseline": "alphabetic", "dy": -3}, "encoding": {"x": {"field": "b", "type": "nominal", "title": null}, "y": {"field": "l", "type": "quantitative", "title": "# of mitotic zone nuclei"}, "text": {"field": "t"}}}
    ]},
    {"data": {"name": "Egl"}, "layer": [
      {"mark": {"type": "rule", "color": "black", "strokeWidth": 1.5, "yOffset": 24, "xOffset": -7, "x2Offset": 9}, "encoding": {"x": {"field": "a", "type": "nominal", "title": null}, "x2": {"field": "b"}, "y": {"datum": 0, "type": "quantitative", "title": "# of mitotic zone nuclei"}}},
      {"mark": {"type": "tick", "orient": "vertical", "color": "black", "size": 5, "thickness": 1.5, "yOffset": 21.5, "xOffset": -7}, "encoding": {"x": {"field": "a", "type": "nominal", "title": null}, "y": {"datum": 0, "type": "quantitative", "title": "# of mitotic zone nuclei"}}},
      {"mark": {"type": "tick", "orient": "vertical", "color": "black", "size": 5, "thickness": 1.5, "yOffset": 21.5, "xOffset": 9}, "encoding": {"x": {"field": "b", "type": "nominal", "title": null}, "y": {"datum": 0, "type": "quantitative", "title": "# of mitotic zone nuclei"}}},
      {"transform": [{"filter": "datum.lab == 'wild type'"}], "mark": {"type": "text", "fontSize": 13, "baseline": "middle", "yOffset": 15}, "encoding": {"x": {"field": "m", "type": "nominal", "title": null}, "y": {"datum": 0, "type": "quantitative", "title": "# of mitotic zone nuclei"}, "text": {"field": "lab"}}},
      {"transform": [{"filter": "datum.lab != 'wild type'"}], "mark": {"type": "text", "fontSize": 13, "fontStyle": "italic", "baseline": "middle", "yOffset": 15}, "encoding": {"x": {"field": "m", "type": "nominal", "title": null}, "y": {"datum": 0, "type": "quantitative", "title": "# of mitotic zone nuclei"}, "text": {"field": "lab"}}}
    ]}
   ]},
  {"hconcat": [
   {"width": 115, "height": 194,
    "title": {"text": "F", "dx": -36, "dy": 11},
    "layer": [
     {"data": {"name": "F"}, "transform": [{"filter": "datum.p == 'bec-1 RNAi' || datum.p == 'control'"}], "layer": [
       {"transform": [{"bin": {"step": 10}, "field": "v", "as": "vb"}, {"window": [{"op": "row_number", "as": "k"}], "groupby": ["g", "vb"], "sort": [{"field": "v"}]}],
        "mark": {"type": "point", "filled": true, "opacity": 1, "size": 40, "strokeWidth": 0, "color": "#9a9a9a"},
        "encoding": {
          "x": {"field": "g", "type": "nominal", "title": null, "scale": {"domain": ["wild type, control RNAi","wild type","daf-7(e1372)","daf-3(ok3610)","daf-5(e1386)"], "paddingInner": 0, "paddingOuter": 0.206},
                "axis": {"labelFontSize": 11.5, "labelPadding": 24, "labelFontStyle": {"condition": {"test": "indexof(datum.value, 'wild type') == 0", "value": "normal"}, "value": "italic"}}},
          "xOffset": {"field": "k", "type": "ordinal", "scale": {"domain": [12,10,8,6,4,2,1,3,5,7,9,11,13], "range": [-12.13, 33.37], "paddingInner": 0, "paddingOuter": 0}},
          "y": {"field": "v", "type": "quantitative", "title": "# of mitotic zone nuclei", "scale": {"domain": [0, 300]}, "axis": {"values": [0,100,200,300], "titlePadding": 2}},
          "shape": {"field": "g", "type": "nominal", "scale": {"domain": ["wild type, control RNAi","wild type","daf-7(e1372)","daf-3(ok3610)","daf-5(e1386)"], "range": ["circle","square","triangle-up","triangle-down","diamond"]}, "legend": null}
        }},
       {"mark": {"type": "errorbar", "extent": "stderr", "ticks": true, "color": "red", "size": 10, "thickness": 1.5},
        "encoding": {"x": {"field": "g", "type": "nominal", "title": null}, "y": {"field": "v", "type": "quantitative", "title": "# of mitotic zone nuclei"}}},
       {"mark": {"type": "tick", "color": "red", "size": 16, "thickness": 2},
        "encoding": {"x": {"field": "g", "type": "nominal", "title": null}, "y": {"field": "v", "aggregate": "mean", "type": "quantitative", "title": "# of mitotic zone nuclei"}}}
     ]},
     {"data": {"name": "Fbr"}, "transform": [{"filter": "datum.p == 'bec-1 RNAi'"}], "layer": [
       {"mark": {"type": "rule", "color": "black", "strokeWidth": 1.5}, "encoding": {"x": {"field": "a", "type": "nominal", "title": null}, "x2": {"field": "b"}, "y": {"field": "l", "type": "quantitative", "title": "# of mitotic zone nuclei"}}},
       {"mark": {"type": "tick", "orient": "vertical", "color": "red", "size": 5, "thickness": 1.5, "yOffset": 2.5}, "encoding": {"x": {"field": "a", "type": "nominal", "title": null}, "y": {"field": "l", "type": "quantitative", "title": "# of mitotic zone nuclei"}}},
       {"mark": {"type": "tick", "orient": "vertical", "color": "black", "size": 5, "thickness": 1.5, "yOffset": 2.5}, "encoding": {"x": {"field": "b", "type": "nominal", "title": null}, "y": {"field": "l", "type": "quantitative", "title": "# of mitotic zone nuclei"}}},
       {"transform": [{"filter": "datum.t != 'ns'"}], "mark": {"type": "text", "fontSize": 11, "baseline": "alphabetic", "dy": 1}, "encoding": {"x": {"field": "b", "type": "nominal", "title": null}, "y": {"field": "l", "type": "quantitative", "title": "# of mitotic zone nuclei"}, "text": {"field": "t"}}},
       {"transform": [{"filter": "datum.t == 'ns'"}], "mark": {"type": "text", "fontSize": 13, "baseline": "alphabetic", "dy": -3}, "encoding": {"x": {"field": "b", "type": "nominal", "title": null}, "y": {"field": "l", "type": "quantitative", "title": "# of mitotic zone nuclei"}, "text": {"field": "t"}}}
     ]},
     {"data": {"name": "Fgl"}, "transform": [{"filter": "datum.p == 'bec-1 RNAi'"}], "layer": [
       {"mark": {"type": "rule", "color": "black", "strokeWidth": 1.5, "yOffset": 28, "xOffset": -4, "x2Offset": 13}, "encoding": {"x": {"field": "a", "type": "nominal", "title": null}, "x2": {"field": "b"}, "y": {"datum": 0, "type": "quantitative", "title": "# of mitotic zone nuclei"}}},
       {"mark": {"type": "tick", "orient": "vertical", "color": "black", "size": 5, "thickness": 1.5, "yOffset": 25.5, "xOffset": -4}, "encoding": {"x": {"field": "a", "type": "nominal", "title": null}, "y": {"datum": 0, "type": "quantitative", "title": "# of mitotic zone nuclei"}}},
       {"mark": {"type": "tick", "orient": "vertical", "color": "black", "size": 5, "thickness": 1.5, "yOffset": 25.5, "xOffset": 13}, "encoding": {"x": {"field": "b", "type": "nominal", "title": null}, "y": {"datum": 0, "type": "quantitative", "title": "# of mitotic zone nuclei"}}},
       {"mark": {"type": "text", "fontSize": 13, "fontStyle": "italic", "baseline": "middle", "yOffset": 18, "xOffset": -6}, "encoding": {"x": {"field": "m", "type": "nominal", "title": null}, "y": {"datum": 0, "type": "quantitative", "title": "# of mitotic zone nuclei"}, "text": {"field": "lab"}}}
     ]}
    ]},
   {"hconcat": [
    {"width": 112, "height": 194,
     "layer": [
      {"data": {"name": "F"}, "transform": [{"filter": "datum.p == 'atg-7 RNAi' || datum.p == 'control'"}], "layer": [
        {"transform": [{"bin": {"step": 10}, "field": "v", "as": "vb"}, {"window": [{"op": "row_number", "as": "k"}], "groupby": ["g", "vb"], "sort": [{"field": "v"}]}],
         "mark": {"type": "point", "filled": true, "opacity": 1, "size": 40, "strokeWidth": 0, "color": "#9a9a9a"},
         "encoding": {
           "x": {"field": "g", "type": "nominal", "title": null, "scale": {"domain": ["wild type, control RNAi","wild type","daf-7(e1372)","daf-3(ok3610)","daf-5(e1386)"], "paddingInner": 0, "paddingOuter": 0.167},
                 "axis": {"labelFontSize": 11.5, "labelPadding": 24, "labelFontStyle": {"condition": {"test": "indexof(datum.value, 'wild type') == 0", "value": "normal"}, "value": "italic"}}},
           "xOffset": {"field": "k", "type": "ordinal", "scale": {"domain": [12,10,8,6,4,2,1,3,5,7,9,11,13], "range": [-12.25, 33.25], "paddingInner": 0, "paddingOuter": 0}},
           "y": {"field": "v", "type": "quantitative", "title": "# of mitotic zone nuclei", "scale": {"domain": [0, 300]}, "axis": {"values": [100,200,300], "titlePadding": 2}},
           "shape": {"field": "g", "type": "nominal", "scale": {"domain": ["wild type, control RNAi","wild type","daf-7(e1372)","daf-3(ok3610)","daf-5(e1386)"], "range": ["circle","square","triangle-up","triangle-down","diamond"]}, "legend": null}
         }},
        {"mark": {"type": "errorbar", "extent": "stderr", "ticks": true, "color": "red", "size": 10, "thickness": 1.5},
         "encoding": {"x": {"field": "g", "type": "nominal", "title": null}, "y": {"field": "v", "type": "quantitative", "title": "# of mitotic zone nuclei"}}},
        {"mark": {"type": "tick", "color": "red", "size": 16, "thickness": 2},
         "encoding": {"x": {"field": "g", "type": "nominal", "title": null}, "y": {"field": "v", "aggregate": "mean", "type": "quantitative", "title": "# of mitotic zone nuclei"}}}
      ]},
      {"data": {"name": "Fbr"}, "transform": [{"filter": "datum.p == 'atg-7 RNAi'"}], "layer": [
        {"mark": {"type": "rule", "color": "black", "strokeWidth": 1.5}, "encoding": {"x": {"field": "a", "type": "nominal", "title": null}, "x2": {"field": "b"}, "y": {"field": "l", "type": "quantitative", "title": "# of mitotic zone nuclei"}}},
        {"mark": {"type": "tick", "orient": "vertical", "color": "red", "size": 5, "thickness": 1.5, "yOffset": 2.5}, "encoding": {"x": {"field": "a", "type": "nominal", "title": null}, "y": {"field": "l", "type": "quantitative", "title": "# of mitotic zone nuclei"}}},
        {"mark": {"type": "tick", "orient": "vertical", "color": "black", "size": 5, "thickness": 1.5, "yOffset": 2.5}, "encoding": {"x": {"field": "b", "type": "nominal", "title": null}, "y": {"field": "l", "type": "quantitative", "title": "# of mitotic zone nuclei"}}},
        {"transform": [{"filter": "datum.t != 'ns'"}], "mark": {"type": "text", "fontSize": 11, "baseline": "alphabetic", "dy": 1}, "encoding": {"x": {"field": "b", "type": "nominal", "title": null}, "y": {"field": "l", "type": "quantitative", "title": "# of mitotic zone nuclei"}, "text": {"field": "t"}}},
        {"transform": [{"filter": "datum.t == 'ns'"}], "mark": {"type": "text", "fontSize": 13, "baseline": "alphabetic", "dy": -3}, "encoding": {"x": {"field": "b", "type": "nominal", "title": null}, "y": {"field": "l", "type": "quantitative", "title": "# of mitotic zone nuclei"}, "text": {"field": "t"}}}
      ]},
      {"data": {"name": "Fgl"}, "transform": [{"filter": "datum.p == 'atg-7 RNAi'"}], "layer": [
        {"mark": {"type": "rule", "color": "black", "strokeWidth": 1.5, "yOffset": 28, "xOffset": -4, "x2Offset": 13}, "encoding": {"x": {"field": "a", "type": "nominal", "title": null}, "x2": {"field": "b"}, "y": {"datum": 0, "type": "quantitative", "title": "# of mitotic zone nuclei"}}},
        {"mark": {"type": "tick", "orient": "vertical", "color": "black", "size": 5, "thickness": 1.5, "yOffset": 25.5, "xOffset": -4}, "encoding": {"x": {"field": "a", "type": "nominal", "title": null}, "y": {"datum": 0, "type": "quantitative", "title": "# of mitotic zone nuclei"}}},
        {"mark": {"type": "tick", "orient": "vertical", "color": "black", "size": 5, "thickness": 1.5, "yOffset": 25.5, "xOffset": 13}, "encoding": {"x": {"field": "b", "type": "nominal", "title": null}, "y": {"datum": 0, "type": "quantitative", "title": "# of mitotic zone nuclei"}}},
        {"mark": {"type": "text", "fontSize": 13, "fontStyle": "italic", "baseline": "middle", "yOffset": 18, "xOffset": -6}, "encoding": {"x": {"field": "m", "type": "nominal", "title": null}, "y": {"datum": 0, "type": "quantitative", "title": "# of mitotic zone nuclei"}, "text": {"field": "lab"}}}
      ]}
     ]},
    {"width": 113, "height": 194,
     "layer": [
      {"data": {"name": "F"}, "transform": [{"filter": "datum.p == 'cup-5 RNAi' || datum.p == 'control'"}], "layer": [
        {"transform": [{"bin": {"step": 10}, "field": "v", "as": "vb"}, {"window": [{"op": "row_number", "as": "k"}], "groupby": ["g", "vb"], "sort": [{"field": "v"}]}],
         "mark": {"type": "point", "filled": true, "opacity": 1, "size": 40, "strokeWidth": 0, "color": "#9a9a9a"},
         "encoding": {
           "x": {"field": "g", "type": "nominal", "title": null, "scale": {"domain": ["wild type, control RNAi","wild type","daf-7(e1372)","daf-3(ok3610)","daf-5(e1386)"], "paddingInner": 0, "paddingOuter": 0.159},
                 "axis": {"labelFontSize": 11.5, "labelPadding": 24, "labelFontStyle": {"condition": {"test": "indexof(datum.value, 'wild type') == 0", "value": "normal"}, "value": "italic"}}},
           "xOffset": {"field": "k", "type": "ordinal", "scale": {"domain": [12,10,8,6,4,2,1,3,5,7,9,11,13], "range": [-12.13, 33.37], "paddingInner": 0, "paddingOuter": 0}},
           "y": {"field": "v", "type": "quantitative", "title": "# of mitotic zone nuclei", "scale": {"domain": [0, 300]}, "axis": {"values": [100,200,300], "titlePadding": 2}},
           "shape": {"field": "g", "type": "nominal", "scale": {"domain": ["wild type, control RNAi","wild type","daf-7(e1372)","daf-3(ok3610)","daf-5(e1386)"], "range": ["circle","square","triangle-up","triangle-down","diamond"]}, "legend": null}
         }},
        {"mark": {"type": "errorbar", "extent": "stderr", "ticks": true, "color": "red", "size": 10, "thickness": 1.5},
         "encoding": {"x": {"field": "g", "type": "nominal", "title": null}, "y": {"field": "v", "type": "quantitative", "title": "# of mitotic zone nuclei"}}},
        {"mark": {"type": "tick", "color": "red", "size": 16, "thickness": 2},
         "encoding": {"x": {"field": "g", "type": "nominal", "title": null}, "y": {"field": "v", "aggregate": "mean", "type": "quantitative", "title": "# of mitotic zone nuclei"}}}
      ]},
      {"data": {"name": "Fbr"}, "transform": [{"filter": "datum.p == 'cup-5 RNAi'"}], "layer": [
        {"mark": {"type": "rule", "color": "black", "strokeWidth": 1.5}, "encoding": {"x": {"field": "a", "type": "nominal", "title": null}, "x2": {"field": "b"}, "y": {"field": "l", "type": "quantitative", "title": "# of mitotic zone nuclei"}}},
        {"mark": {"type": "tick", "orient": "vertical", "color": "red", "size": 5, "thickness": 1.5, "yOffset": 2.5}, "encoding": {"x": {"field": "a", "type": "nominal", "title": null}, "y": {"field": "l", "type": "quantitative", "title": "# of mitotic zone nuclei"}}},
        {"mark": {"type": "tick", "orient": "vertical", "color": "black", "size": 5, "thickness": 1.5, "yOffset": 2.5}, "encoding": {"x": {"field": "b", "type": "nominal", "title": null}, "y": {"field": "l", "type": "quantitative", "title": "# of mitotic zone nuclei"}}},
        {"transform": [{"filter": "datum.t != 'ns'"}], "mark": {"type": "text", "fontSize": 11, "baseline": "alphabetic", "dy": 1}, "encoding": {"x": {"field": "b", "type": "nominal", "title": null}, "y": {"field": "l", "type": "quantitative", "title": "# of mitotic zone nuclei"}, "text": {"field": "t"}}},
        {"transform": [{"filter": "datum.t == 'ns'"}], "mark": {"type": "text", "fontSize": 13, "baseline": "alphabetic", "dy": -3}, "encoding": {"x": {"field": "b", "type": "nominal", "title": null}, "y": {"field": "l", "type": "quantitative", "title": "# of mitotic zone nuclei"}, "text": {"field": "t"}}}
      ]},
      {"data": {"name": "Fgl"}, "transform": [{"filter": "datum.p == 'cup-5 RNAi'"}], "layer": [
        {"mark": {"type": "rule", "color": "black", "strokeWidth": 1.5, "yOffset": 28, "xOffset": -4, "x2Offset": 13}, "encoding": {"x": {"field": "a", "type": "nominal", "title": null}, "x2": {"field": "b"}, "y": {"datum": 0, "type": "quantitative", "title": "# of mitotic zone nuclei"}}},
        {"mark": {"type": "tick", "orient": "vertical", "color": "black", "size": 5, "thickness": 1.5, "yOffset": 25.5, "xOffset": -4}, "encoding": {"x": {"field": "a", "type": "nominal", "title": null}, "y": {"datum": 0, "type": "quantitative", "title": "# of mitotic zone nuclei"}}},
        {"mark": {"type": "tick", "orient": "vertical", "color": "black", "size": 5, "thickness": 1.5, "yOffset": 25.5, "xOffset": 13}, "encoding": {"x": {"field": "b", "type": "nominal", "title": null}, "y": {"datum": 0, "type": "quantitative", "title": "# of mitotic zone nuclei"}}},
        {"mark": {"type": "text", "fontSize": 13, "fontStyle": "italic", "baseline": "middle", "yOffset": 18, "xOffset": -6}, "encoding": {"x": {"field": "m", "type": "nominal", "title": null}, "y": {"datum": 0, "type": "quantitative", "title": "# of mitotic zone nuclei"}, "text": {"field": "lab"}}}
      ]}
     ]}
   ], "spacing": 89, "bounds": "flush", "resolve": {"scale": {"color": "independent", "shape": "independent", "fill": "independent"}}}
  ], "spacing": 75, "bounds": "flush", "resolve": {"scale": {"color": "independent", "shape": "independent", "fill": "independent"}}}
 ], "spacing": 42, "bounds": "flush", "resolve": {"scale": {"color": "independent", "shape": "independent", "fill": "independent"}}}
], "spacing": 318, "bounds": "flush", "resolve": {"scale": {"color": "independent", "shape": "independent", "fill": "independent"}}}
]
}
